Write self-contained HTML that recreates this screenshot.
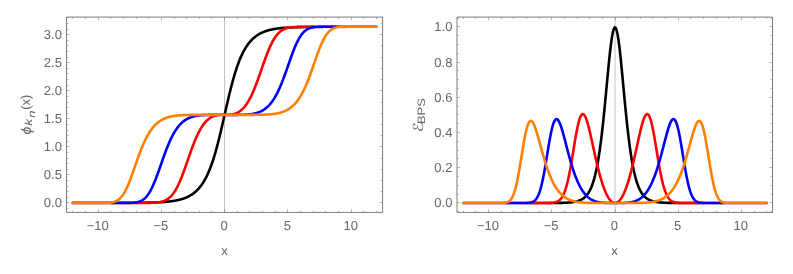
<!DOCTYPE html>
<html><head><meta charset="utf-8"><title>plots</title>
<style>html,body{margin:0;padding:0;background:#fff;overflow:hidden}
svg{display:block;will-change:transform;-webkit-font-smoothing:antialiased;text-rendering:geometricPrecision}</style>
</head><body>
<svg width="793" height="274" viewBox="0 0 793 274" font-family="'Liberation Sans', sans-serif" font-size="13" fill="#666666">
<rect width="793" height="274" fill="#ffffff"/>
<line x1="224.50" y1="17.10" x2="224.50" y2="212.40" stroke="#c4c4c4" stroke-width="1"/>
<path d="M135.42 202.80L135.73 202.80L136.05 202.80L136.37 202.80L136.68 202.79L137.00 202.79L137.31 202.79L137.63 202.78L137.95 202.78L138.26 202.78L138.58 202.78L138.90 202.77L139.21 202.77L139.53 202.77L139.84 202.76L140.16 202.76L140.48 202.75L140.79 202.75L141.11 202.75L141.43 202.74L141.74 202.74L142.06 202.74L142.38 202.73L142.69 202.73L143.01 202.72L143.32 202.72L143.64 202.71L143.96 202.71L144.27 202.70L144.59 202.70L144.91 202.69L145.22 202.69L145.54 202.68L145.85 202.68L146.17 202.67L146.49 202.67L146.80 202.66L147.12 202.65L147.44 202.65L147.75 202.64L148.07 202.64L148.38 202.63L148.70 202.62L149.02 202.62L149.33 202.61L149.65 202.60L149.97 202.59L150.28 202.59L150.60 202.58L150.91 202.57L151.23 202.56L151.55 202.55L151.86 202.54L152.18 202.53L152.50 202.52L152.81 202.52L153.13 202.51L153.44 202.50L153.76 202.49L154.08 202.47L154.39 202.46L154.71 202.45L155.02 202.44L155.34 202.43L155.66 202.42L155.97 202.41L156.29 202.39L156.61 202.38L156.92 202.37L157.24 202.35L157.56 202.34L157.87 202.33L158.19 202.31L158.50 202.30L158.82 202.28L159.14 202.27L159.45 202.25L159.77 202.23L160.08 202.22L160.40 202.20L160.72 202.18L161.03 202.16L161.35 202.14L161.67 202.13L161.98 202.11L162.30 202.09L162.62 202.07L162.93 202.04L163.25 202.02L163.56 202.00L163.88 201.98L164.20 201.95L164.51 201.93L164.83 201.91L165.15 201.88L165.46 201.85L165.78 201.83L166.09 201.80L166.41 201.77L166.73 201.74L167.04 201.72L167.36 201.69L167.67 201.65L167.99 201.62L168.31 201.59L168.62 201.56L168.94 201.52L169.26 201.49L169.57 201.45L169.89 201.42L170.20 201.38L170.52 201.34L170.84 201.30L171.15 201.26L171.47 201.22L171.79 201.18L172.10 201.13L172.42 201.09L172.74 201.04L173.05 201.00L173.37 200.95L173.68 200.90L174.00 200.85L174.32 200.80L174.63 200.74L174.95 200.69L175.26 200.63L175.58 200.57L175.90 200.51L176.21 200.45L176.53 200.39L176.85 200.33L177.16 200.26L177.48 200.20L177.80 200.13L178.11 200.06L178.43 199.99L178.74 199.91L179.06 199.84L179.38 199.76L179.69 199.68L180.01 199.60L180.32 199.52L180.64 199.43L180.96 199.34L181.27 199.25L181.59 199.16L181.91 199.07L182.22 198.97L182.54 198.87L182.86 198.77L183.17 198.66L183.49 198.56L183.80 198.45L184.12 198.33L184.44 198.22L184.75 198.10L185.07 197.98L185.38 197.85L185.70 197.73L186.02 197.60L186.33 197.46L186.65 197.32L186.97 197.18L187.28 197.04L187.60 196.89L187.91 196.74L188.23 196.58L188.55 196.42L188.86 196.26L189.18 196.09L189.50 195.92L189.81 195.74L190.13 195.56L190.44 195.38L190.76 195.19L191.08 194.99L191.39 194.79L191.71 194.59L192.03 194.38L192.34 194.16L192.66 193.94L192.97 193.72L193.29 193.49L193.61 193.25L193.92 193.01L194.24 192.76L194.56 192.50L194.87 192.24L195.19 191.97L195.50 191.70L195.82 191.42L196.14 191.13L196.45 190.83L196.77 190.53L197.09 190.22L197.40 189.90L197.72 189.57L198.03 189.24L198.35 188.90L198.67 188.55L198.98 188.19L199.30 187.82L199.62 187.44L199.93 187.06L200.25 186.66L200.56 186.26L200.88 185.84L201.20 185.42L201.51 184.98L201.83 184.54L202.15 184.08L202.46 183.61L202.78 183.13L203.09 182.64L203.41 182.14L203.73 181.63L204.04 181.11L204.36 180.57L204.68 180.02L204.99 179.45L205.31 178.88L205.62 178.29L205.94 177.69L206.26 177.07L206.57 176.44L206.89 175.80L207.21 175.14L207.52 174.47L207.84 173.78L208.16 173.07L208.47 172.35L208.79 171.62L209.10 170.87L209.42 170.10L209.74 169.32L210.05 168.52L210.37 167.71L210.69 166.88L211.00 166.03L211.32 165.16L211.63 164.28L211.95 163.38L212.27 162.47L212.58 161.53L212.90 160.58L213.22 159.61L213.53 158.63L213.85 157.62L214.16 156.60L214.48 155.56L214.80 154.50L215.11 153.43L215.43 152.34L215.75 151.23L216.06 150.11L216.38 148.97L216.69 147.81L217.01 146.63L217.33 145.44L217.64 144.24L217.96 143.02L218.28 141.78L218.59 140.53L218.91 139.27L219.22 137.99L219.54 136.70L219.86 135.40L220.17 134.09L220.49 132.76L220.81 131.43L221.12 130.08L221.44 128.73L221.75 127.36L222.07 125.99L222.39 124.62L222.70 123.23L223.02 121.84L223.34 120.45L223.65 119.06L223.97 117.66L224.28 116.26L224.60 114.86M224.60 114.86L224.92 113.46L225.23 112.06L225.55 110.66L225.87 109.26L226.18 107.87L226.50 106.48L226.81 105.10L227.13 103.72L227.45 102.35L227.76 100.99L228.08 99.63L228.40 98.29L228.71 96.95L229.03 95.63L229.34 94.31L229.66 93.01L229.98 91.72L230.29 90.44L230.61 89.18L230.92 87.93L231.24 86.70L231.56 85.48L231.87 84.27L232.19 83.08L232.51 81.91L232.82 80.75L233.14 79.61L233.46 78.48L233.77 77.37L234.09 76.28L234.40 75.21L234.72 74.15L235.04 73.11L235.35 72.09L235.67 71.09L235.99 70.10L236.30 69.13L236.62 68.18L236.93 67.25L237.25 66.33L237.57 65.43L237.88 64.55L238.20 63.68L238.52 62.84L238.83 62.00L239.15 61.19L239.46 60.39L239.78 59.61L240.10 58.84L240.41 58.09L240.73 57.36L241.05 56.64L241.36 55.94L241.68 55.25L241.99 54.58L242.31 53.92L242.63 53.27L242.94 52.64L243.26 52.03L243.57 51.42L243.89 50.83L244.21 50.26L244.52 49.70L244.84 49.15L245.16 48.61L245.47 48.08L245.79 47.57L246.11 47.07L246.42 46.58L246.74 46.10L247.05 45.63L247.37 45.18L247.69 44.73L248.00 44.30L248.32 43.87L248.63 43.46L248.95 43.05L249.27 42.66L249.58 42.27L249.90 41.89L250.22 41.53L250.53 41.17L250.85 40.82L251.17 40.47L251.48 40.14L251.80 39.81L252.11 39.49L252.43 39.18L252.75 38.88L253.06 38.59L253.38 38.30L253.69 38.02L254.01 37.74L254.33 37.47L254.64 37.21L254.96 36.96L255.28 36.71L255.59 36.46L255.91 36.23L256.23 35.99L256.54 35.77L256.86 35.55L257.17 35.33L257.49 35.12L257.81 34.92L258.12 34.72L258.44 34.53L258.75 34.34L259.07 34.15L259.39 33.97L259.70 33.79L260.02 33.62L260.34 33.45L260.65 33.29L260.97 33.13L261.28 32.98L261.60 32.82L261.92 32.68L262.23 32.53L262.55 32.39L262.87 32.25L263.18 32.12L263.50 31.99L263.81 31.86L264.13 31.74L264.45 31.61L264.76 31.50L265.08 31.38L265.40 31.27L265.71 31.16L266.03 31.05L266.35 30.95L266.66 30.84L266.98 30.75L267.29 30.65L267.61 30.55L267.93 30.46L268.24 30.37L268.56 30.28L268.88 30.20L269.19 30.11L269.51 30.03L269.82 29.95L270.14 29.88L270.46 29.80L270.77 29.73L271.09 29.65L271.41 29.58L271.72 29.52L272.04 29.45L272.35 29.38L272.67 29.32L272.99 29.26L273.30 29.20L273.62 29.14L273.94 29.08L274.25 29.03L274.57 28.97L274.88 28.92L275.20 28.87L275.52 28.82L275.83 28.77L276.15 28.72L276.47 28.67L276.78 28.63L277.10 28.58L277.41 28.54L277.73 28.49L278.05 28.45L278.36 28.41L278.68 28.37L279.00 28.33L279.31 28.30L279.63 28.26L279.94 28.22L280.26 28.19L280.58 28.16L280.89 28.12L281.21 28.09L281.52 28.06L281.84 28.03L282.16 28.00L282.47 27.97L282.79 27.94L283.11 27.91L283.42 27.89L283.74 27.86L284.06 27.83L284.37 27.81L284.69 27.78L285.00 27.76L285.32 27.74L285.64 27.71L285.95 27.69L286.27 27.67L286.59 27.65L286.90 27.63L287.22 27.61L287.53 27.59L287.85 27.57L288.17 27.55L288.48 27.53L288.80 27.51L289.12 27.50L289.43 27.48L289.75 27.46L290.06 27.45L290.38 27.43L290.70 27.42L291.01 27.40L291.33 27.39L291.64 27.37L291.96 27.36L292.28 27.35L292.59 27.33L292.91 27.32L293.23 27.31L293.54 27.30L293.86 27.28L294.18 27.27L294.49 27.26L294.81 27.25L295.12 27.24L295.44 27.23L295.76 27.22L296.07 27.21L296.39 27.20L296.70 27.19L297.02 27.18L297.34 27.17L297.65 27.16L297.97 27.15L298.29 27.14L298.60 27.14L298.92 27.13L299.24 27.12L299.55 27.11L299.87 27.11L300.18 27.10L300.50 27.09L300.82 27.08L301.13 27.08L301.45 27.07L301.76 27.07L302.08 27.06L302.40 27.05L302.71 27.05L303.03 27.04L303.35 27.04L303.66 27.03L303.98 27.02L304.30 27.02L304.61 27.01L304.93 27.01L305.24 27.00L305.56 27.00L305.88 27.00L306.19 26.99L306.51 26.99L306.82 26.98L307.14 26.98L307.46 26.97L307.77 26.97L308.09 26.97L308.41 26.96L308.72 26.96L309.04 26.96L309.36 26.95L309.67 26.95L309.99 26.94L310.30 26.94L310.62 26.94L310.94 26.94L311.25 26.93L311.57 26.93L311.88 26.93L312.20 26.92L312.52 26.92L312.83 26.92L313.15 26.92L313.47 26.91L313.78 26.91" fill="none" stroke="#000000" stroke-width="2.60" stroke-linecap="round" stroke-linejoin="round"/>
<path d="M110.75 202.90L111.07 202.90L111.38 202.90L111.70 202.90L112.01 202.90L112.33 202.90L112.65 202.90L112.96 202.90L113.28 202.90L113.60 202.90L113.91 202.90L114.23 202.90L114.55 202.90L114.86 202.90L115.18 202.90L115.49 202.90L115.81 202.90L116.13 202.90L116.44 202.90L116.76 202.90L117.07 202.90L117.39 202.90L117.71 202.90L118.02 202.90L118.34 202.90L118.66 202.90L118.97 202.90L119.29 202.90L119.60 202.90L119.92 202.90L120.24 202.90L120.55 202.90L120.87 202.90L121.19 202.90L121.50 202.90L121.82 202.90L122.13 202.90L122.45 202.90L122.77 202.90L123.08 202.90L123.40 202.90L123.72 202.90L124.03 202.90L124.35 202.90L124.66 202.90L124.98 202.90L125.30 202.90L125.61 202.90L125.93 202.90L126.25 202.90L126.56 202.90L126.88 202.90L127.19 202.90L127.51 202.90L127.83 202.90L128.14 202.90L128.46 202.90L128.78 202.90L129.09 202.90L129.41 202.90L129.72 202.90L130.04 202.90L130.36 202.90L130.67 202.90L130.99 202.90L131.31 202.90L131.62 202.90L131.94 202.90L132.25 202.90L132.57 202.90L132.89 202.90L133.20 202.90L133.52 202.90L133.84 202.90L134.15 202.90L134.47 202.90L134.78 202.90L135.10 202.90L135.42 202.90L135.73 202.90L136.05 202.90L136.37 202.90L136.68 202.90L137.00 202.90L137.31 202.90L137.63 202.90L137.95 202.90L138.26 202.90L138.58 202.90L138.90 202.90L139.21 202.90L139.53 202.90L139.84 202.90L140.16 202.90L140.48 202.90L140.79 202.90L141.11 202.90L141.43 202.90L141.74 202.90L142.06 202.90L142.38 202.90L142.69 202.90L143.01 202.89L143.32 202.89L143.64 202.89L143.96 202.89L144.27 202.89L144.59 202.89L144.91 202.89L145.22 202.89L145.54 202.89L145.85 202.89L146.17 202.88L146.49 202.88L146.80 202.88L147.12 202.88L147.44 202.87L147.75 202.87L148.07 202.87L148.38 202.87L148.70 202.86L149.02 202.86L149.33 202.85L149.65 202.85L149.97 202.84L150.28 202.84L150.60 202.83L150.91 202.83L151.23 202.82L151.55 202.81L151.86 202.80L152.18 202.79L152.50 202.78L152.81 202.77L153.13 202.76L153.44 202.75L153.76 202.73L154.08 202.72L154.39 202.70L154.71 202.68L155.02 202.66L155.34 202.64L155.66 202.62L155.97 202.60L156.29 202.57L156.61 202.54L156.92 202.51L157.24 202.48L157.56 202.45L157.87 202.41L158.19 202.37L158.50 202.33L158.82 202.29L159.14 202.24L159.45 202.19L159.77 202.13L160.08 202.08L160.40 202.01L160.72 201.95L161.03 201.88L161.35 201.81L161.67 201.73L161.98 201.64L162.30 201.56L162.62 201.46L162.93 201.37L163.25 201.26L163.56 201.15L163.88 201.03L164.20 200.91L164.51 200.78L164.83 200.65L165.15 200.50L165.46 200.35L165.78 200.19L166.09 200.03L166.41 199.85L166.73 199.67L167.04 199.48L167.36 199.28L167.67 199.07L167.99 198.85L168.31 198.61L168.62 198.37L168.94 198.12L169.26 197.86L169.57 197.59L169.89 197.30L170.20 197.01L170.52 196.70L170.84 196.38L171.15 196.05L171.47 195.70L171.79 195.34L172.10 194.97L172.42 194.59L172.74 194.19L173.05 193.78L173.37 193.35L173.68 192.91L174.00 192.46L174.32 191.99L174.63 191.50L174.95 191.01L175.26 190.49L175.58 189.97L175.90 189.42L176.21 188.87L176.53 188.29L176.85 187.71L177.16 187.11L177.48 186.49L177.80 185.86L178.11 185.21L178.43 184.55L178.74 183.88L179.06 183.19L179.38 182.49L179.69 181.77L180.01 181.05L180.32 180.30L180.64 179.55L180.96 178.78L181.27 178.00L181.59 177.21L181.91 176.41L182.22 175.60L182.54 174.78L182.86 173.94L183.17 173.10L183.49 172.25L183.80 171.39L184.12 170.52L184.44 169.65L184.75 168.77L185.07 167.88L185.38 166.99L185.70 166.09L186.02 165.19L186.33 164.29L186.65 163.38L186.97 162.47L187.28 161.56L187.60 160.65L187.91 159.74L188.23 158.83L188.55 157.92L188.86 157.01L189.18 156.10L189.50 155.20L189.81 154.30L190.13 153.41L190.44 152.52L190.76 151.63L191.08 150.75L191.39 149.88L191.71 149.01L192.03 148.15L192.34 147.30L192.66 146.46L192.97 145.62L193.29 144.80L193.61 143.98L193.92 143.17L194.24 142.38L194.56 141.59L194.87 140.82L195.19 140.05L195.50 139.30L195.82 138.56L196.14 137.83L196.45 137.11L196.77 136.41L197.09 135.72L197.40 135.04L197.72 134.37L198.03 133.72L198.35 133.07L198.67 132.45L198.98 131.83L199.30 131.23L199.62 130.64L199.93 130.06L200.25 129.50L200.56 128.94L200.88 128.41L201.20 127.88L201.51 127.37L201.83 126.87L202.15 126.38L202.46 125.91L202.78 125.45L203.09 125.00L203.41 124.56L203.73 124.14L204.04 123.73L204.36 123.33L204.68 122.94L204.99 122.56L205.31 122.20L205.62 121.84L205.94 121.50L206.26 121.17L206.57 120.85L206.89 120.54L207.21 120.25L207.52 119.96L207.84 119.68L208.16 119.41L208.47 119.16L208.79 118.91L209.10 118.67L209.42 118.44L209.74 118.22L210.05 118.01L210.37 117.81L210.69 117.62L211.00 117.43L211.32 117.26L211.63 117.09L211.95 116.93L212.27 116.78L212.58 116.64L212.90 116.50L213.22 116.37L213.53 116.25L213.85 116.13L214.16 116.02L214.48 115.92L214.80 115.82L215.11 115.73L215.43 115.65L215.75 115.57L216.06 115.50L216.38 115.43L216.69 115.36L217.01 115.31L217.33 115.25L217.64 115.20M231.56 114.51L231.87 114.46L232.19 114.41L232.51 114.35L232.82 114.29L233.14 114.22L233.46 114.14L233.77 114.07L234.09 113.98L234.40 113.89L234.72 113.79L235.04 113.69L235.35 113.58L235.67 113.47L235.99 113.34L236.30 113.21L236.62 113.08L236.93 112.93L237.25 112.78L237.57 112.62L237.88 112.45L238.20 112.28L238.52 112.09L238.83 111.90L239.15 111.70L239.46 111.49L239.78 111.27L240.10 111.04L240.41 110.81L240.73 110.56L241.05 110.30L241.36 110.03L241.68 109.76L241.99 109.47L242.31 109.17L242.63 108.86L242.94 108.54L243.26 108.21L243.57 107.87L243.89 107.52L244.21 107.15L244.52 106.77L244.84 106.39L245.16 105.99L245.47 105.57L245.79 105.15L246.11 104.71L246.42 104.26L246.74 103.80L247.05 103.33L247.37 102.84L247.69 102.34L248.00 101.83L248.32 101.31L248.63 100.77L248.95 100.22L249.27 99.65L249.58 99.08L249.90 98.49L250.22 97.88L250.53 97.27L250.85 96.64L251.17 96.00L251.48 95.34L251.80 94.68L252.11 94.00L252.43 93.30L252.75 92.60L253.06 91.88L253.38 91.15L253.69 90.41L254.01 89.66L254.33 88.90L254.64 88.12L254.96 87.34L255.28 86.54L255.59 85.73L255.91 84.92L256.23 84.09L256.54 83.26L256.86 82.41L257.17 81.56L257.49 80.70L257.81 79.84L258.12 78.96L258.44 78.08L258.75 77.20L259.07 76.31L259.39 75.41L259.70 74.51L260.02 73.61L260.34 72.70L260.65 71.79L260.97 70.88L261.28 69.97L261.60 69.06L261.92 68.15L262.23 67.24L262.55 66.33L262.87 65.42L263.18 64.52L263.50 63.62L263.81 62.72L264.13 61.83L264.45 60.94L264.76 60.06L265.08 59.19L265.40 58.32L265.71 57.46L266.03 56.61L266.35 55.77L266.66 54.94L266.98 54.11L267.29 53.30L267.61 52.50L267.93 51.71L268.24 50.93L268.56 50.16L268.88 49.41L269.19 48.67L269.51 47.94L269.82 47.22L270.14 46.52L270.46 45.83L270.77 45.16L271.09 44.50L271.41 43.85L271.72 43.22L272.04 42.61L272.35 42.01L272.67 41.42L272.99 40.85L273.30 40.29L273.62 39.75L273.94 39.22L274.25 38.71L274.57 38.21L274.88 37.73L275.20 37.26L275.52 36.80L275.83 36.36L276.15 35.94L276.47 35.53L276.78 35.13L277.10 34.74L277.41 34.37L277.73 34.01L278.05 33.67L278.36 33.34L278.68 33.01L279.00 32.71L279.31 32.41L279.63 32.13L279.94 31.85L280.26 31.59L280.58 31.34L280.89 31.10L281.21 30.87L281.52 30.65L281.84 30.44L282.16 30.24L282.47 30.04L282.79 29.86L283.11 29.69L283.42 29.52L283.74 29.36L284.06 29.21L284.37 29.07L284.69 28.93L285.00 28.80L285.32 28.68L285.64 28.56L285.95 28.45L286.27 28.35L286.59 28.25L286.90 28.16L287.22 28.07L287.53 27.99L287.85 27.91L288.17 27.83L288.48 27.76L288.80 27.70L289.12 27.64L289.43 27.58L289.75 27.53L290.06 27.48L290.38 27.43L290.70 27.38L291.01 27.34L291.33 27.30L291.64 27.27L291.96 27.23L292.28 27.20L292.59 27.17L292.91 27.14L293.23 27.12L293.54 27.09L293.86 27.07L294.18 27.05L294.49 27.03L294.81 27.01L295.12 27.00L295.44 26.98L295.76 26.97L296.07 26.95L296.39 26.94L296.70 26.93L297.02 26.92L297.34 26.91L297.65 26.90L297.97 26.90L298.29 26.89L298.60 26.88L298.92 26.88L299.24 26.87L299.55 26.86L299.87 26.86L300.18 26.86L300.50 26.85L300.82 26.85L301.13 26.84L301.45 26.84L301.76 26.84L302.08 26.84L302.40 26.83L302.71 26.83L303.03 26.83L303.35 26.83L303.66 26.83L303.98 26.83L304.30 26.82L304.61 26.82L304.93 26.82L305.24 26.82L305.56 26.82L305.88 26.82L306.19 26.82L306.51 26.82L306.82 26.82L307.14 26.82L307.46 26.82L307.77 26.82L308.09 26.82L308.41 26.82L308.72 26.82L309.04 26.82L309.36 26.82L309.67 26.82L309.99 26.81L310.30 26.81L310.62 26.81L310.94 26.81L311.25 26.81L311.57 26.81L311.88 26.81L312.20 26.81L312.52 26.81L312.83 26.81L313.15 26.81L313.47 26.81L313.78 26.81L314.10 26.81L314.42 26.81L314.73 26.81L315.05 26.81L315.36 26.81L315.68 26.81L316.00 26.81L316.31 26.81L316.63 26.81L316.94 26.81L317.26 26.81L317.58 26.81L317.89 26.81L318.21 26.81L318.53 26.81L318.84 26.81L319.16 26.81L319.48 26.81L319.79 26.81L320.11 26.81L320.42 26.81L320.74 26.81L321.06 26.81L321.37 26.81L321.69 26.81L322.01 26.81L322.32 26.81L322.64 26.81L322.95 26.81L323.27 26.81L323.59 26.81L323.90 26.81L324.22 26.81L324.54 26.81L324.85 26.81L325.17 26.81L325.48 26.81L325.80 26.81L326.12 26.81L326.43 26.81L326.75 26.81L327.06 26.81L327.38 26.81L327.70 26.81L328.01 26.81L328.33 26.81L328.65 26.81L328.96 26.81L329.28 26.81L329.60 26.81L329.91 26.81L330.23 26.81L330.54 26.81L330.86 26.81L331.18 26.81L331.49 26.81L331.81 26.81L332.12 26.81L332.44 26.81L332.76 26.81L333.07 26.81L333.39 26.81L333.71 26.81L334.02 26.81L334.34 26.81L334.66 26.81L334.97 26.81L335.29 26.81L335.60 26.81L335.92 26.81L336.24 26.81L336.55 26.81L336.87 26.81L337.19 26.81L337.50 26.81L337.82 26.81L338.13 26.81L338.45 26.81" fill="none" stroke="#ff0000" stroke-width="2.60" stroke-linecap="round" stroke-linejoin="round"/>
<path d="M72.80 202.90L73.12 202.90L73.43 202.90L73.75 202.90L74.06 202.90L74.38 202.90L74.70 202.90L75.01 202.90L75.33 202.90L75.65 202.90L75.96 202.90L76.28 202.90L76.59 202.90L76.91 202.90L77.23 202.90L77.54 202.90L77.86 202.90L78.18 202.90L78.49 202.90L78.81 202.90L79.12 202.90L79.44 202.90L79.76 202.90L80.07 202.90L80.39 202.90L80.71 202.90L81.02 202.90L81.34 202.90L81.65 202.90L81.97 202.90L82.29 202.90L82.60 202.90L82.92 202.90L83.24 202.90L83.55 202.90L83.87 202.90L84.19 202.90L84.50 202.90L84.82 202.90L85.13 202.90L85.45 202.90L85.77 202.90L86.08 202.90L86.40 202.90L86.71 202.90L87.03 202.90L87.35 202.90L87.66 202.90L87.98 202.90L88.30 202.90L88.61 202.90L88.93 202.90L89.25 202.90L89.56 202.90L89.88 202.90L90.19 202.90L90.51 202.90L90.83 202.90L91.14 202.90L91.46 202.90L91.77 202.90L92.09 202.90L92.41 202.90L92.72 202.90L93.04 202.90L93.36 202.90L93.67 202.90L93.99 202.90L94.30 202.90L94.62 202.90L94.94 202.90L95.25 202.90L95.57 202.90L95.89 202.90L96.20 202.90L96.52 202.90L96.83 202.90L97.15 202.90L97.47 202.90L97.78 202.90L98.10 202.90L98.42 202.90L98.73 202.90L99.05 202.90L99.36 202.90L99.68 202.90L100.00 202.90L100.31 202.90L100.63 202.90L100.95 202.90L101.26 202.90L101.58 202.90L101.89 202.90L102.21 202.90L102.53 202.90L102.84 202.90L103.16 202.90L103.48 202.90L103.79 202.90L104.11 202.90L104.42 202.90L104.74 202.90L105.06 202.90L105.37 202.90L105.69 202.90L106.01 202.90L106.32 202.90L106.64 202.90L106.95 202.90L107.27 202.90L107.59 202.90L107.90 202.90L108.22 202.90L108.54 202.90L108.85 202.90L109.17 202.90L109.48 202.90L109.80 202.90L110.12 202.90L110.43 202.90L110.75 202.90L111.07 202.90L111.38 202.90L111.70 202.90L112.01 202.90L112.33 202.90L112.65 202.90L112.96 202.90L113.28 202.90L113.60 202.90L113.91 202.90L114.23 202.90L114.55 202.90L114.86 202.90L115.18 202.90L115.49 202.90L115.81 202.90L116.13 202.90L116.44 202.90L116.76 202.90L117.07 202.90L117.39 202.90L117.71 202.90L118.02 202.90L118.34 202.90L118.66 202.90L118.97 202.90L119.29 202.90L119.60 202.90L119.92 202.90L120.24 202.90L120.55 202.90L120.87 202.90L121.19 202.90L121.50 202.90L121.82 202.90L122.13 202.90L122.45 202.90L122.77 202.90L123.08 202.90L123.40 202.90L123.72 202.90L124.03 202.90L124.35 202.89L124.66 202.89L124.98 202.89L125.30 202.89L125.61 202.89L125.93 202.89L126.25 202.89L126.56 202.89L126.88 202.88L127.19 202.88L127.51 202.88L127.83 202.87L128.14 202.87L128.46 202.87L128.78 202.86L129.09 202.86L129.41 202.85L129.72 202.84L130.04 202.84L130.36 202.83L130.67 202.82L130.99 202.81L131.31 202.80L131.62 202.78L131.94 202.77L132.25 202.75L132.57 202.73L132.89 202.72L133.20 202.69L133.52 202.67L133.84 202.64L134.15 202.62L134.47 202.59L134.78 202.55L135.10 202.51L135.42 202.47L135.73 202.43L136.05 202.38L136.37 202.33L136.68 202.27L137.00 202.21L137.31 202.15L137.63 202.08L137.95 202.00L138.26 201.92L138.58 201.83L138.90 201.74L139.21 201.63L139.53 201.53L139.84 201.41L140.16 201.29L140.48 201.15L140.79 201.01L141.11 200.86L141.43 200.70L141.74 200.53L142.06 200.35L142.38 200.16L142.69 199.96L143.01 199.75L143.32 199.53L143.64 199.29L143.96 199.04L144.27 198.78L144.59 198.51L144.91 198.22L145.22 197.92L145.54 197.60L145.85 197.27L146.17 196.93L146.49 196.57L146.80 196.19L147.12 195.80L147.44 195.40L147.75 194.98L148.07 194.54L148.38 194.08L148.70 193.61L149.02 193.12L149.33 192.62L149.65 192.10L149.97 191.56L150.28 191.01L150.60 190.44L150.91 189.85L151.23 189.25L151.55 188.63L151.86 187.99L152.18 187.34L152.50 186.67L152.81 185.98L153.13 185.29L153.44 184.57L153.76 183.84L154.08 183.10L154.39 182.35L154.71 181.58L155.02 180.80L155.34 180.00L155.66 179.19L155.97 178.38L156.29 177.55L156.61 176.71L156.92 175.86L157.24 175.01L157.56 174.14L157.87 173.27L158.19 172.39L158.50 171.51L158.82 170.62L159.14 169.72L159.45 168.82L159.77 167.92L160.08 167.02L160.40 166.11L160.72 165.20L161.03 164.29L161.35 163.38L161.67 162.48L161.98 161.57L162.30 160.67L162.62 159.76L162.93 158.87L163.25 157.97L163.56 157.09L163.88 156.20L164.20 155.32L164.51 154.45L164.83 153.59L165.15 152.73L165.46 151.88L165.78 151.04L166.09 150.21L166.41 149.38L166.73 148.57L167.04 147.76L167.36 146.97L167.67 146.18L167.99 145.41L168.31 144.65L168.62 143.89L168.94 143.15L169.26 142.42L169.57 141.70L169.89 141.00L170.20 140.30L170.52 139.62L170.84 138.95L171.15 138.29L171.47 137.64L171.79 137.01L172.10 136.39L172.42 135.77L172.74 135.18L173.05 134.59L173.37 134.02L173.68 133.45L174.00 132.90L174.32 132.36L174.63 131.84L174.95 131.32L175.26 130.82L175.58 130.33L175.90 129.85L176.21 129.38L176.53 128.92L176.85 128.47L177.16 128.03L177.48 127.61L177.80 127.19L178.11 126.79L178.43 126.39L178.74 126.01L179.06 125.64L179.38 125.27L179.69 124.92L180.01 124.57L180.32 124.23L180.64 123.91L180.96 123.59L181.27 123.28L181.59 122.98L181.91 122.69L182.22 122.40L182.54 122.13L182.86 121.86L183.17 121.60L183.49 121.35L183.80 121.10L184.12 120.86L184.44 120.63L184.75 120.41L185.07 120.19L185.38 119.98L185.70 119.78L186.02 119.59L186.33 119.40L186.65 119.21L186.97 119.03L187.28 118.86L187.60 118.69L187.91 118.53L188.23 118.38L188.55 118.23L188.86 118.08L189.18 117.94L189.50 117.81L189.81 117.68L190.13 117.55L190.44 117.43L190.76 117.31L191.08 117.20L191.39 117.09L191.71 116.99L192.03 116.89L192.34 116.79L192.66 116.70L192.97 116.61L193.29 116.52L193.61 116.44L193.92 116.36L194.24 116.28L194.56 116.21L194.87 116.14L195.19 116.08L195.50 116.01L195.82 115.95L196.14 115.89L196.45 115.83L196.77 115.78L197.09 115.73L197.40 115.68L197.72 115.63L198.03 115.59L198.35 115.55L198.67 115.51L198.98 115.47L199.30 115.43L199.62 115.40L199.93 115.36L200.25 115.33L200.56 115.30L200.88 115.27L201.20 115.25L201.51 115.22L201.83 115.20L202.15 115.17L202.46 115.15L202.78 115.13L203.09 115.11L203.41 115.09L203.73 115.08L204.04 115.06L204.36 115.04L204.68 115.03L204.99 115.02L205.31 115.00L205.62 114.99L205.94 114.98L206.26 114.97L206.57 114.96L206.89 114.95L207.21 114.95L207.52 114.94L207.84 114.93L208.16 114.92L208.47 114.92L208.79 114.91L209.10 114.91L209.42 114.90L209.74 114.90L210.05 114.89L210.37 114.89L210.69 114.89L211.00 114.88L211.32 114.88L211.63 114.88L211.95 114.87L212.27 114.87L212.58 114.87L212.90 114.87L213.22 114.87L213.53 114.87L213.85 114.86L214.16 114.86L214.48 114.86L214.80 114.86L215.11 114.86L215.43 114.86L215.75 114.86L216.06 114.86L216.38 114.86L216.69 114.86L217.01 114.86L217.33 114.86L217.64 114.86L217.96 114.86L218.28 114.86L218.59 114.86L218.91 114.86L219.22 114.86L219.54 114.86L219.86 114.86L220.17 114.86L220.49 114.86L220.81 114.86L221.12 114.86L221.44 114.86L221.75 114.86L222.07 114.86L222.39 114.86L222.70 114.86L223.02 114.86L223.34 114.86L223.65 114.86L223.97 114.86L224.28 114.86L224.60 114.86L224.92 114.86L225.23 114.86L225.55 114.86L225.87 114.86L226.18 114.86L226.50 114.86L226.81 114.86L227.13 114.86L227.45 114.86L227.76 114.86L228.08 114.86L228.40 114.86L228.71 114.86L229.03 114.86L229.34 114.86L229.66 114.86L229.98 114.86L230.29 114.86L230.61 114.86L230.92 114.86L231.24 114.86L231.56 114.86L231.87 114.86L232.19 114.86L232.51 114.86L232.82 114.85L233.14 114.85L233.46 114.85L233.77 114.85L234.09 114.85L234.40 114.85L234.72 114.85L235.04 114.85L235.35 114.85L235.67 114.85L235.99 114.85L236.30 114.84L236.62 114.84L236.93 114.84L237.25 114.84L237.57 114.84L237.88 114.83L238.20 114.83L238.52 114.83L238.83 114.82L239.15 114.82L239.46 114.82L239.78 114.81L240.10 114.81L240.41 114.80L240.73 114.80L241.05 114.79L241.36 114.78L241.68 114.78L241.99 114.77L242.31 114.76L242.63 114.75L242.94 114.74L243.26 114.73L243.57 114.72L243.89 114.71L244.21 114.70L244.52 114.68L244.84 114.67L245.16 114.65L245.47 114.64L245.79 114.62L246.11 114.60L246.42 114.58L246.74 114.56L247.05 114.54L247.37 114.52L247.69 114.49L248.00 114.47L248.32 114.44L248.63 114.41L248.95 114.38L249.27 114.35L249.58 114.32L249.90 114.28L250.22 114.25L250.53 114.21L250.85 114.17L251.17 114.12L251.48 114.08L251.80 114.03L252.11 113.98L252.43 113.93L252.75 113.88L253.06 113.82L253.38 113.76L253.69 113.70L254.01 113.64L254.33 113.57L254.64 113.50L254.96 113.43L255.28 113.35L255.59 113.27L255.91 113.19L256.23 113.11L256.54 113.02L256.86 112.92L257.17 112.83L257.49 112.73L257.81 112.62L258.12 112.51L258.44 112.40L258.75 112.28L259.07 112.16L259.39 112.04L259.70 111.91L260.02 111.77L260.34 111.63L260.65 111.49L260.97 111.34L261.28 111.18L261.60 111.02L261.92 110.85L262.23 110.68L262.55 110.50L262.87 110.32L263.18 110.13L263.50 109.93L263.81 109.73L264.13 109.52L264.45 109.30L264.76 109.08L265.08 108.85L265.40 108.61L265.71 108.37L266.03 108.12L266.35 107.86L266.66 107.59L266.98 107.31L267.29 107.03L267.61 106.74L267.93 106.44L268.24 106.13L268.56 105.81L268.88 105.48L269.19 105.14L269.51 104.80L269.82 104.44L270.14 104.08L270.46 103.70L270.77 103.32L271.09 102.93L271.41 102.52L271.72 102.10L272.04 101.68L272.35 101.24L272.67 100.80L272.99 100.34L273.30 99.87L273.62 99.39L273.94 98.89L274.25 98.39L274.57 97.88L274.88 97.35L275.20 96.81L275.52 96.26L275.83 95.70L276.15 95.12L276.47 94.54L276.78 93.94L277.10 93.33L277.41 92.71L277.73 92.07L278.05 91.42L278.36 90.77L278.68 90.09L279.00 89.41L279.31 88.72L279.63 88.01L279.94 87.29L280.26 86.56L280.58 85.82L280.89 85.07L281.21 84.31L281.52 83.53L281.84 82.75L282.16 81.95L282.47 81.15L282.79 80.33L283.11 79.51L283.42 78.67L283.74 77.83L284.06 76.98L284.37 76.13L284.69 75.26L285.00 74.39L285.32 73.51L285.64 72.63L285.95 71.74L286.27 70.85L286.59 69.95L286.90 69.05L287.22 68.14L287.53 67.24L287.85 66.33L288.17 65.42L288.48 64.51L288.80 63.61L289.12 62.70L289.43 61.79L289.75 60.89L290.06 59.99L290.38 59.10L290.70 58.21L291.01 57.32L291.33 56.44L291.64 55.57L291.96 54.71L292.28 53.85L292.59 53.00L292.91 52.16L293.23 51.34L293.54 50.52L293.86 49.71L294.18 48.92L294.49 48.14L294.81 47.37L295.12 46.61L295.44 45.87L295.76 45.14L296.07 44.43L296.39 43.73L296.70 43.05L297.02 42.38L297.34 41.72L297.65 41.09L297.97 40.47L298.29 39.86L298.60 39.28L298.92 38.71L299.24 38.15L299.55 37.61L299.87 37.09L300.18 36.59L300.50 36.10L300.82 35.63L301.13 35.18L301.45 34.74L301.76 34.32L302.08 33.91L302.40 33.52L302.71 33.14L303.03 32.78L303.35 32.44L303.66 32.11L303.98 31.79L304.30 31.49L304.61 31.20L304.93 30.93L305.24 30.67L305.56 30.42L305.88 30.19L306.19 29.96L306.51 29.75L306.82 29.55L307.14 29.36L307.46 29.18L307.77 29.01L308.09 28.85L308.41 28.70L308.72 28.56L309.04 28.43L309.36 28.30L309.67 28.19L309.99 28.08L310.30 27.98L310.62 27.88L310.94 27.79L311.25 27.71L311.57 27.64L311.88 27.57L312.20 27.50L312.52 27.44L312.83 27.38L313.15 27.33L313.47 27.28L313.78 27.24L314.10 27.20L314.42 27.16L314.73 27.13L315.05 27.10L315.36 27.07L315.68 27.04L316.00 27.02L316.31 27.00L316.63 26.98L316.94 26.96L317.26 26.95L317.58 26.93L317.89 26.92L318.21 26.91L318.53 26.90L318.84 26.89L319.16 26.88L319.48 26.87L319.79 26.86L320.11 26.86L320.42 26.85L320.74 26.85L321.06 26.84L321.37 26.84L321.69 26.84L322.01 26.83L322.32 26.83L322.64 26.83L322.95 26.83L323.27 26.82L323.59 26.82L323.90 26.82L324.22 26.82L324.54 26.82L324.85 26.82L325.17 26.82L325.48 26.82L325.80 26.82L326.12 26.82L326.43 26.82L326.75 26.82L327.06 26.82L327.38 26.82L327.70 26.81L328.01 26.81L328.33 26.81L328.65 26.81L328.96 26.81L329.28 26.81L329.60 26.81L329.91 26.81L330.23 26.81L330.54 26.81L330.86 26.81L331.18 26.81L331.49 26.81L331.81 26.81L332.12 26.81L332.44 26.81L332.76 26.81L333.07 26.81L333.39 26.81L333.71 26.81L334.02 26.81L334.34 26.81L334.66 26.81L334.97 26.81L335.29 26.81L335.60 26.81L335.92 26.81L336.24 26.81L336.55 26.81L336.87 26.81L337.19 26.81L337.50 26.81L337.82 26.81L338.13 26.81L338.45 26.81L338.77 26.81L339.08 26.81L339.40 26.81L339.72 26.81L340.03 26.81L340.35 26.81L340.66 26.81L340.98 26.81L341.30 26.81L341.61 26.81L341.93 26.81L342.25 26.81L342.56 26.81L342.88 26.81L343.19 26.81L343.51 26.81L343.83 26.81L344.14 26.81L344.46 26.81L344.77 26.81L345.09 26.81L345.41 26.81L345.72 26.81L346.04 26.81L346.36 26.81L346.67 26.81L346.99 26.81L347.31 26.81L347.62 26.81L347.94 26.81L348.25 26.81L348.57 26.81L348.89 26.81L349.20 26.81L349.52 26.81L349.84 26.81L350.15 26.81L350.47 26.81L350.78 26.81L351.10 26.81L351.42 26.81L351.73 26.81L352.05 26.81L352.37 26.81L352.68 26.81L353.00 26.81L353.31 26.81L353.63 26.81L353.95 26.81L354.26 26.81L354.58 26.81L354.89 26.81L355.21 26.81L355.53 26.81L355.84 26.81L356.16 26.81L356.48 26.81L356.79 26.81L357.11 26.81L357.43 26.81L357.74 26.81L358.06 26.81L358.37 26.81L358.69 26.81L359.01 26.81L359.32 26.81L359.64 26.81L359.96 26.81L360.27 26.81L360.59 26.81L360.90 26.81L361.22 26.81L361.54 26.81L361.85 26.81L362.17 26.81L362.49 26.81L362.80 26.81L363.12 26.81L363.43 26.81L363.75 26.81L364.07 26.81L364.38 26.81L364.70 26.81L365.01 26.81L365.33 26.81L365.65 26.81L365.96 26.81L366.28 26.81L366.60 26.81L366.91 26.81L367.23 26.81L367.55 26.81L367.86 26.81L368.18 26.81L368.49 26.81L368.81 26.81L369.13 26.81L369.44 26.81L369.76 26.81L370.07 26.81L370.39 26.81L370.71 26.81L371.02 26.81L371.34 26.81L371.66 26.81L371.97 26.81L372.29 26.81L372.61 26.81L372.92 26.81L373.24 26.81L373.55 26.81L373.87 26.81L374.19 26.81L374.50 26.81L374.82 26.81L375.13 26.81L375.45 26.81L375.77 26.81L376.08 26.81L376.40 26.81" fill="none" stroke="#0000ff" stroke-width="2.60" stroke-linecap="round" stroke-linejoin="round"/>
<path d="M72.80 202.90L73.12 202.90L73.43 202.90L73.75 202.90L74.06 202.90L74.38 202.90L74.70 202.90L75.01 202.90L75.33 202.90L75.65 202.90L75.96 202.90L76.28 202.90L76.59 202.90L76.91 202.90L77.23 202.90L77.54 202.90L77.86 202.90L78.18 202.90L78.49 202.90L78.81 202.90L79.12 202.90L79.44 202.90L79.76 202.90L80.07 202.90L80.39 202.90L80.71 202.90L81.02 202.90L81.34 202.90L81.65 202.90L81.97 202.90L82.29 202.90L82.60 202.90L82.92 202.90L83.24 202.90L83.55 202.90L83.87 202.90L84.19 202.90L84.50 202.90L84.82 202.90L85.13 202.90L85.45 202.90L85.77 202.90L86.08 202.90L86.40 202.90L86.71 202.90L87.03 202.90L87.35 202.90L87.66 202.90L87.98 202.90L88.30 202.90L88.61 202.90L88.93 202.90L89.25 202.90L89.56 202.90L89.88 202.90L90.19 202.90L90.51 202.90L90.83 202.90L91.14 202.90L91.46 202.90L91.77 202.90L92.09 202.90L92.41 202.90L92.72 202.90L93.04 202.90L93.36 202.90L93.67 202.90L93.99 202.90L94.30 202.90L94.62 202.90L94.94 202.90L95.25 202.90L95.57 202.90L95.89 202.90L96.20 202.90L96.52 202.90L96.83 202.90L97.15 202.90L97.47 202.90L97.78 202.90L98.10 202.90L98.42 202.90L98.73 202.90L99.05 202.90L99.36 202.90L99.68 202.90L100.00 202.90L100.31 202.90L100.63 202.90L100.95 202.90L101.26 202.90L101.58 202.89L101.89 202.89L102.21 202.89L102.53 202.89L102.84 202.89L103.16 202.89L103.48 202.89L103.79 202.88L104.11 202.88L104.42 202.88L104.74 202.87L105.06 202.87L105.37 202.86L105.69 202.86L106.01 202.85L106.32 202.84L106.64 202.83L106.95 202.82L107.27 202.81L107.59 202.80L107.90 202.79L108.22 202.77L108.54 202.75L108.85 202.73L109.17 202.71L109.48 202.69L109.80 202.66L110.12 202.63L110.43 202.60L110.75 202.56L111.07 202.52L111.38 202.48L111.70 202.43L112.01 202.38L112.33 202.32L112.65 202.26L112.96 202.19L113.28 202.12L113.60 202.04L113.91 201.95L114.23 201.85L114.55 201.75L114.86 201.64L115.18 201.52L115.49 201.40L115.81 201.26L116.13 201.11L116.44 200.96L116.76 200.79L117.07 200.61L117.39 200.43L117.71 200.22L118.02 200.01L118.34 199.79L118.66 199.55L118.97 199.29L119.29 199.03L119.60 198.75L119.92 198.45L120.24 198.14L120.55 197.81L120.87 197.47L121.19 197.11L121.50 196.74L121.82 196.35L122.13 195.94L122.45 195.51L122.77 195.07L123.08 194.61L123.40 194.13L123.72 193.64L124.03 193.13L124.35 192.60L124.66 192.05L124.98 191.48L125.30 190.90L125.61 190.30L125.93 189.68L126.25 189.04L126.56 188.39L126.88 187.72L127.19 187.04L127.51 186.34L127.83 185.62L128.14 184.89L128.46 184.14L128.78 183.38L129.09 182.61L129.41 181.82L129.72 181.02L130.04 180.20L130.36 179.38L130.67 178.54L130.99 177.70L131.31 176.85L131.62 175.98L131.94 175.11L132.25 174.23L132.57 173.35L132.89 172.45L133.20 171.56L133.52 170.66L133.84 169.75L134.15 168.85L134.47 167.94L134.78 167.03L135.10 166.11L135.42 165.20L135.73 164.29L136.05 163.38L136.37 162.48L136.68 161.57L137.00 160.67L137.31 159.78L137.63 158.88L137.95 158.00L138.26 157.12L138.58 156.24L138.90 155.37L139.21 154.51L139.53 153.66L139.84 152.82L140.16 151.98L140.48 151.16L140.79 150.34L141.11 149.53L141.43 148.74L141.74 147.95L142.06 147.17L142.38 146.41L142.69 145.66L143.01 144.91L143.32 144.18L143.64 143.46L143.96 142.75L144.27 142.06L144.59 141.37L144.91 140.70L145.22 140.04L145.54 139.39L145.85 138.75L146.17 138.13L146.49 137.51L146.80 136.91L147.12 136.32L147.44 135.75L147.75 135.18L148.07 134.63L148.38 134.08L148.70 133.55L149.02 133.03L149.33 132.53L149.65 132.03L149.97 131.54L150.28 131.07L150.60 130.60L150.91 130.15L151.23 129.71L151.55 129.28L151.86 128.85L152.18 128.44L152.50 128.04L152.81 127.65L153.13 127.26L153.44 126.89L153.76 126.53L154.08 126.17L154.39 125.83L154.71 125.49L155.02 125.16L155.34 124.84L155.66 124.53L155.97 124.23L156.29 123.93L156.61 123.64L156.92 123.36L157.24 123.09L157.56 122.82L157.87 122.57L158.19 122.32L158.50 122.07L158.82 121.84L159.14 121.61L159.45 121.38L159.77 121.16L160.08 120.95L160.40 120.75L160.72 120.55L161.03 120.35L161.35 120.17L161.67 119.98L161.98 119.81L162.30 119.63L162.62 119.47L162.93 119.31L163.25 119.15L163.56 119.00L163.88 118.85L164.20 118.71L164.51 118.57L164.83 118.43L165.15 118.30L165.46 118.18L165.78 118.05L166.09 117.94L166.41 117.82L166.73 117.71L167.04 117.60L167.36 117.50L167.67 117.40L167.99 117.30L168.31 117.21L168.62 117.12L168.94 117.03L169.26 116.94L169.57 116.86L169.89 116.78L170.20 116.71L170.52 116.63L170.84 116.56L171.15 116.49L171.47 116.43L171.79 116.36L172.10 116.30L172.42 116.24L172.74 116.18L173.05 116.13L173.37 116.07L173.68 116.02L174.00 115.97L174.32 115.92L174.63 115.88L174.95 115.83L175.26 115.79L175.58 115.75L175.90 115.71L176.21 115.67L176.53 115.64L176.85 115.60L177.16 115.57L177.48 115.53L177.80 115.50L178.11 115.47L178.43 115.44L178.74 115.42L179.06 115.39L179.38 115.36L179.69 115.34L180.01 115.32L180.32 115.29L180.64 115.27L180.96 115.25L181.27 115.23L181.59 115.21L181.91 115.20L182.22 115.18L182.54 115.16L182.86 115.15L183.17 115.13L183.49 115.12L183.80 115.10L184.12 115.09L184.44 115.08L184.75 115.07L185.07 115.05L185.38 115.04L185.70 115.03L186.02 115.02L186.33 115.01L186.65 115.01L186.97 115.00L187.28 114.99L187.60 114.98L187.91 114.97L188.23 114.97L188.55 114.96L188.86 114.95L189.18 114.95L189.50 114.94L189.81 114.94L190.13 114.93L190.44 114.93L190.76 114.92L191.08 114.92L191.39 114.92L191.71 114.91L192.03 114.91L192.34 114.90L192.66 114.90L192.97 114.90L193.29 114.90L193.61 114.89L193.92 114.89L194.24 114.89L194.56 114.89L194.87 114.88L195.19 114.88L195.50 114.88L195.82 114.88L196.14 114.88L196.45 114.88L196.77 114.87L197.09 114.87L197.40 114.87L197.72 114.87L198.03 114.87L198.35 114.87L198.67 114.87L198.98 114.87L199.30 114.87L199.62 114.86L199.93 114.86L200.25 114.86L200.56 114.86L200.88 114.86L201.20 114.86L201.51 114.86L201.83 114.86L202.15 114.86L202.46 114.86L202.78 114.86L203.09 114.86L203.41 114.86L203.73 114.86L204.04 114.86L204.36 114.86L204.68 114.86L204.99 114.86L205.31 114.86L205.62 114.86L205.94 114.86L206.26 114.86L206.57 114.86L206.89 114.86L207.21 114.86L207.52 114.86L207.84 114.86L208.16 114.86L208.47 114.86L208.79 114.86L209.10 114.86L209.42 114.86L209.74 114.86L210.05 114.86L210.37 114.86L210.69 114.86L211.00 114.86L211.32 114.86L211.63 114.86L211.95 114.86L212.27 114.86L212.58 114.86L212.90 114.86L213.22 114.86L213.53 114.86L213.85 114.86L214.16 114.86L214.48 114.86L214.80 114.86L215.11 114.86L215.43 114.86L215.75 114.86L216.06 114.86L216.38 114.86L216.69 114.86L217.01 114.86L217.33 114.86L217.64 114.86L217.96 114.86L218.28 114.86L218.59 114.86L218.91 114.86L219.22 114.86L219.54 114.86L219.86 114.86L220.17 114.86L220.49 114.86L220.81 114.86L221.12 114.86L221.44 114.86L221.75 114.86L222.07 114.86L222.39 114.86L222.70 114.86L223.02 114.86L223.34 114.86L223.65 114.86L223.97 114.86L224.28 114.86L224.60 114.86L224.92 114.86L225.23 114.86L225.55 114.86L225.87 114.86L226.18 114.86L226.50 114.86L226.81 114.86L227.13 114.86L227.45 114.86L227.76 114.86L228.08 114.86L228.40 114.86L228.71 114.86L229.03 114.86L229.34 114.86L229.66 114.86L229.98 114.86L230.29 114.86L230.61 114.86L230.92 114.86L231.24 114.86L231.56 114.86L231.87 114.86L232.19 114.86L232.51 114.86L232.82 114.86L233.14 114.86L233.46 114.86L233.77 114.86L234.09 114.86L234.40 114.86L234.72 114.86L235.04 114.86L235.35 114.86L235.67 114.86L235.99 114.86L236.30 114.86L236.62 114.86L236.93 114.86L237.25 114.86L237.57 114.86L237.88 114.86L238.20 114.86L238.52 114.86L238.83 114.86L239.15 114.86L239.46 114.86L239.78 114.86L240.10 114.86L240.41 114.86L240.73 114.86L241.05 114.86L241.36 114.86L241.68 114.86L241.99 114.86L242.31 114.86L242.63 114.86L242.94 114.86L243.26 114.86L243.57 114.86L243.89 114.86L244.21 114.86L244.52 114.86L244.84 114.86L245.16 114.85L245.47 114.85L245.79 114.85L246.11 114.85L246.42 114.85L246.74 114.85L247.05 114.85L247.37 114.85L247.69 114.85L248.00 114.85L248.32 114.85L248.63 114.85L248.95 114.85L249.27 114.85L249.58 114.85L249.90 114.85L250.22 114.85L250.53 114.85L250.85 114.85L251.17 114.84L251.48 114.84L251.80 114.84L252.11 114.84L252.43 114.84L252.75 114.84L253.06 114.84L253.38 114.84L253.69 114.83L254.01 114.83L254.33 114.83L254.64 114.83L254.96 114.83L255.28 114.82L255.59 114.82L255.91 114.82L256.23 114.82L256.54 114.81L256.86 114.81L257.17 114.81L257.49 114.80L257.81 114.80L258.12 114.79L258.44 114.79L258.75 114.79L259.07 114.78L259.39 114.78L259.70 114.77L260.02 114.77L260.34 114.76L260.65 114.75L260.97 114.75L261.28 114.74L261.60 114.73L261.92 114.72L262.23 114.72L262.55 114.71L262.87 114.70L263.18 114.69L263.50 114.68L263.81 114.67L264.13 114.66L264.45 114.65L264.76 114.64L265.08 114.62L265.40 114.61L265.71 114.60L266.03 114.58L266.35 114.57L266.66 114.55L266.98 114.53L267.29 114.52L267.61 114.50L267.93 114.48L268.24 114.46L268.56 114.44L268.88 114.42L269.19 114.40L269.51 114.37L269.82 114.35L270.14 114.32L270.46 114.30L270.77 114.27L271.09 114.24L271.41 114.21L271.72 114.18L272.04 114.15L272.35 114.11L272.67 114.08L272.99 114.04L273.30 114.00L273.62 113.96L273.94 113.92L274.25 113.88L274.57 113.84L274.88 113.79L275.20 113.74L275.52 113.69L275.83 113.64L276.15 113.59L276.47 113.53L276.78 113.47L277.10 113.41L277.41 113.35L277.73 113.29L278.05 113.22L278.36 113.15L278.68 113.08L279.00 113.01L279.31 112.93L279.63 112.85L279.94 112.77L280.26 112.68L280.58 112.60L280.89 112.51L281.21 112.41L281.52 112.31L281.84 112.21L282.16 112.11L282.47 112.00L282.79 111.89L283.11 111.78L283.42 111.66L283.74 111.54L284.06 111.41L284.37 111.28L284.69 111.15L285.00 111.01L285.32 110.86L285.64 110.72L285.95 110.56L286.27 110.41L286.59 110.25L286.90 110.08L287.22 109.91L287.53 109.73L287.85 109.55L288.17 109.36L288.48 109.17L288.80 108.97L289.12 108.76L289.43 108.55L289.75 108.33L290.06 108.11L290.38 107.88L290.70 107.64L291.01 107.40L291.33 107.15L291.64 106.89L291.96 106.62L292.28 106.35L292.59 106.07L292.91 105.78L293.23 105.49L293.54 105.19L293.86 104.87L294.18 104.55L294.49 104.23L294.81 103.89L295.12 103.54L295.44 103.19L295.76 102.82L296.07 102.45L296.39 102.07L296.70 101.68L297.02 101.27L297.34 100.86L297.65 100.44L297.97 100.01L298.29 99.56L298.60 99.11L298.92 98.65L299.24 98.17L299.55 97.69L299.87 97.19L300.18 96.68L300.50 96.16L300.82 95.63L301.13 95.09L301.45 94.53L301.76 93.97L302.08 93.39L302.40 92.80L302.71 92.20L303.03 91.59L303.35 90.96L303.66 90.33L303.98 89.68L304.30 89.02L304.61 88.34L304.93 87.66L305.24 86.96L305.56 86.25L305.88 85.53L306.19 84.80L306.51 84.06L306.82 83.30L307.14 82.54L307.46 81.76L307.77 80.98L308.09 80.18L308.41 79.37L308.72 78.56L309.04 77.73L309.36 76.89L309.67 76.05L309.99 75.20L310.30 74.34L310.62 73.47L310.94 72.60L311.25 71.72L311.57 70.83L311.88 69.94L312.20 69.04L312.52 68.14L312.83 67.24L313.15 66.33L313.47 65.42L313.78 64.51L314.10 63.60L314.42 62.69L314.73 61.78L315.05 60.87L315.36 59.96L315.68 59.06L316.00 58.16L316.31 57.26L316.63 56.37L316.94 55.48L317.26 54.60L317.58 53.73L317.89 52.87L318.21 52.01L318.53 51.17L318.84 50.33L319.16 49.51L319.48 48.70L319.79 47.90L320.11 47.11L320.42 46.33L320.74 45.57L321.06 44.83L321.37 44.09L321.69 43.38L322.01 42.68L322.32 41.99L322.64 41.32L322.95 40.67L323.27 40.03L323.59 39.42L323.90 38.82L324.22 38.23L324.54 37.67L324.85 37.12L325.17 36.59L325.48 36.07L325.80 35.58L326.12 35.10L326.43 34.64L326.75 34.20L327.06 33.77L327.38 33.37L327.70 32.97L328.01 32.60L328.33 32.24L328.65 31.90L328.96 31.57L329.28 31.26L329.60 30.97L329.91 30.69L330.23 30.42L330.54 30.17L330.86 29.93L331.18 29.70L331.49 29.49L331.81 29.29L332.12 29.10L332.44 28.92L332.76 28.76L333.07 28.60L333.39 28.45L333.71 28.32L334.02 28.19L334.34 28.07L334.66 27.96L334.97 27.86L335.29 27.77L335.60 27.68L335.92 27.60L336.24 27.52L336.55 27.46L336.87 27.39L337.19 27.34L337.50 27.28L337.82 27.23L338.13 27.19L338.45 27.15L338.77 27.11L339.08 27.08L339.40 27.05L339.72 27.02L340.03 27.00L340.35 26.98L340.66 26.96L340.98 26.94L341.30 26.93L341.61 26.91L341.93 26.90L342.25 26.89L342.56 26.88L342.88 26.87L343.19 26.86L343.51 26.86L343.83 26.85L344.14 26.85L344.46 26.84L344.77 26.84L345.09 26.83L345.41 26.83L345.72 26.83L346.04 26.83L346.36 26.82L346.67 26.82L346.99 26.82L347.31 26.82L347.62 26.82L347.94 26.82L348.25 26.82L348.57 26.82L348.89 26.82L349.20 26.82L349.52 26.82L349.84 26.82L350.15 26.81L350.47 26.81L350.78 26.81L351.10 26.81L351.42 26.81L351.73 26.81L352.05 26.81L352.37 26.81L352.68 26.81L353.00 26.81L353.31 26.81L353.63 26.81L353.95 26.81L354.26 26.81L354.58 26.81L354.89 26.81L355.21 26.81L355.53 26.81L355.84 26.81L356.16 26.81L356.48 26.81L356.79 26.81L357.11 26.81L357.43 26.81L357.74 26.81L358.06 26.81L358.37 26.81L358.69 26.81L359.01 26.81L359.32 26.81L359.64 26.81L359.96 26.81L360.27 26.81L360.59 26.81L360.90 26.81L361.22 26.81L361.54 26.81L361.85 26.81L362.17 26.81L362.49 26.81L362.80 26.81L363.12 26.81L363.43 26.81L363.75 26.81L364.07 26.81L364.38 26.81L364.70 26.81L365.01 26.81L365.33 26.81L365.65 26.81L365.96 26.81L366.28 26.81L366.60 26.81L366.91 26.81L367.23 26.81L367.55 26.81L367.86 26.81L368.18 26.81L368.49 26.81L368.81 26.81L369.13 26.81L369.44 26.81L369.76 26.81L370.07 26.81L370.39 26.81L370.71 26.81L371.02 26.81L371.34 26.81L371.66 26.81L371.97 26.81L372.29 26.81L372.61 26.81L372.92 26.81L373.24 26.81L373.55 26.81L373.87 26.81L374.19 26.81L374.50 26.81L374.82 26.81L375.13 26.81L375.45 26.81L375.77 26.81L376.08 26.81L376.40 26.81" fill="none" stroke="#ff8000" stroke-width="2.60" stroke-linecap="round" stroke-linejoin="round"/>
<path d="M66.50 212.40L66.50 17.10L382.60 17.10L382.60 212.40Z" fill="none" stroke="#666666" stroke-width="0.85"/>
<path d="M72.50 212.40v-1.90M72.50 17.10v1.90M85.50 212.40v-1.90M85.50 17.10v1.90M98.50 212.40v-3.30M98.50 17.10v3.30M110.50 212.40v-1.90M110.50 17.10v1.90M123.50 212.40v-1.90M123.50 17.10v1.90M136.50 212.40v-1.90M136.50 17.10v1.90M148.50 212.40v-1.90M148.50 17.10v1.90M161.50 212.40v-3.30M161.50 17.10v3.30M174.50 212.40v-1.90M174.50 17.10v1.90M186.50 212.40v-1.90M186.50 17.10v1.90M199.50 212.40v-1.90M199.50 17.10v1.90M211.50 212.40v-1.90M211.50 17.10v1.90M224.50 212.40v-3.30M224.50 17.10v3.30M237.50 212.40v-1.90M237.50 17.10v1.90M249.50 212.40v-1.90M249.50 17.10v1.90M262.50 212.40v-1.90M262.50 17.10v1.90M275.50 212.40v-1.90M275.50 17.10v1.90M287.50 212.40v-3.30M287.50 17.10v3.30M300.50 212.40v-1.90M300.50 17.10v1.90M313.50 212.40v-1.90M313.50 17.10v1.90M325.50 212.40v-1.90M325.50 17.10v1.90M338.50 212.40v-1.90M338.50 17.10v1.90M351.50 212.40v-3.30M351.50 17.10v3.30M363.50 212.40v-1.90M363.50 17.10v1.90M376.50 212.40v-1.90M376.50 17.10v1.90M66.50 208.50h1.90M66.50 202.50h3.30M382.60 202.50h-3.30M66.50 197.50h1.90M66.50 191.50h1.90M382.60 191.50h-1.90M66.50 186.50h1.90M66.50 180.50h1.90M382.60 180.50h-1.90M66.50 174.50h3.30M66.50 169.50h1.90M382.60 169.50h-1.90M66.50 163.50h1.90M66.50 158.50h1.90M382.60 158.50h-1.90M66.50 152.50h1.90M66.50 146.50h3.30M382.60 146.50h-3.30M66.50 141.50h1.90M66.50 135.50h1.90M382.60 135.50h-1.90M66.50 130.50h1.90M66.50 124.50h1.90M382.60 124.50h-1.90M66.50 118.50h3.30M66.50 113.50h1.90M382.60 113.50h-1.90M66.50 107.50h1.90M66.50 102.50h1.90M382.60 102.50h-1.90M66.50 96.50h1.90M66.50 90.50h3.30M382.60 90.50h-3.30M66.50 85.50h1.90M66.50 79.50h1.90M382.60 79.50h-1.90M66.50 73.50h1.90M66.50 68.50h1.90M382.60 68.50h-1.90M66.50 62.50h3.30M66.50 57.50h1.90M382.60 57.50h-1.90M66.50 51.50h1.90M66.50 45.50h1.90M382.60 45.50h-1.90M66.50 40.50h1.90M66.50 34.50h3.30M382.60 34.50h-3.30M66.50 29.50h1.90M66.50 23.50h1.90M382.60 23.50h-1.90M66.50 17.50h1.90" fill="none" stroke="#666666" stroke-width="0.45"/>
<text x="97.70" y="230.00" text-anchor="middle">−10</text>
<text x="160.95" y="230.00" text-anchor="middle">−5</text>
<text x="224.20" y="230.00" text-anchor="middle">0</text>
<text x="287.45" y="230.00" text-anchor="middle">5</text>
<text x="350.70" y="230.00" text-anchor="middle">10</text>
<text x="61.90" y="207.00" text-anchor="end">0.0</text>
<text x="61.90" y="179.00" text-anchor="end">0.5</text>
<text x="61.90" y="151.00" text-anchor="end">1.0</text>
<text x="61.90" y="123.00" text-anchor="end">1.5</text>
<text x="61.90" y="95.00" text-anchor="end">2.0</text>
<text x="61.90" y="67.00" text-anchor="end">2.5</text>
<text x="61.90" y="39.00" text-anchor="end">3.0</text>
<text x="224.60" y="255.00" text-anchor="middle">x</text>
<line x1="615.00" y1="17.10" x2="615.00" y2="212.40" stroke="#c4c4c4" stroke-width="1"/>
<path d="M530.00 203.00L530.31 203.00L530.63 203.00L530.94 203.00L531.26 203.00L531.58 203.00L531.89 203.00L532.21 203.00L532.52 203.00L532.84 203.00L533.16 203.00L533.47 203.00L533.79 203.00L534.10 203.00L534.42 203.00L534.74 203.00L535.05 203.00L535.37 203.00L535.68 203.00L536.00 203.00L536.32 203.00L536.63 203.00L536.95 203.00L537.26 203.00L537.58 203.00L537.90 203.00L538.21 203.00L538.53 203.00L538.84 203.00L539.16 203.00L539.48 203.00L539.79 203.00L540.11 202.99L540.42 202.99L540.74 202.99L541.06 202.99L541.37 202.99L541.69 202.99L542.00 202.99L542.32 202.99L542.64 202.99L542.95 202.99L543.27 202.99L543.58 202.99L543.90 202.99L544.22 202.99L544.53 202.99L544.85 202.99L545.16 202.99L545.48 202.99L545.80 202.99L546.11 202.99L546.43 202.99L546.74 202.99L547.06 202.98L547.38 202.98L547.69 202.98L548.01 202.98L548.32 202.98L548.64 202.98L548.96 202.98L549.27 202.98L549.59 202.98L549.90 202.98L550.22 202.98L550.54 202.97L550.85 202.97L551.17 202.97L551.48 202.97L551.80 202.97L552.12 202.97L552.43 202.96L552.75 202.96L553.06 202.96L553.38 202.96L553.70 202.96L554.01 202.95L554.33 202.95L554.64 202.95L554.96 202.95L555.28 202.94L555.59 202.94L555.91 202.94L556.22 202.94L556.54 202.93L556.86 202.93L557.17 202.93L557.49 202.92L557.80 202.92L558.12 202.91L558.44 202.91L558.75 202.90L559.07 202.90L559.38 202.89L559.70 202.89L560.02 202.88L560.33 202.88L560.65 202.87L560.96 202.86L561.28 202.86L561.60 202.85L561.91 202.84L562.23 202.83L562.54 202.83L562.86 202.82L563.18 202.81L563.49 202.80L563.81 202.79L564.12 202.78L564.44 202.76L564.76 202.75L565.07 202.74L565.39 202.73L565.70 202.71L566.02 202.70L566.34 202.68L566.65 202.67L566.97 202.65L567.28 202.63L567.60 202.61L567.92 202.59L568.23 202.57L568.55 202.55L568.86 202.53L569.18 202.50L569.50 202.48L569.81 202.45L570.13 202.42L570.44 202.39L570.76 202.36L571.08 202.33L571.39 202.29L571.71 202.26L572.02 202.22L572.34 202.18L572.66 202.14L572.97 202.09L573.29 202.05L573.60 202.00L573.92 201.95L574.24 201.89L574.55 201.84L574.87 201.78L575.18 201.71L575.50 201.65L575.82 201.58L576.13 201.51L576.45 201.43L576.76 201.35L577.08 201.27L577.40 201.18L577.71 201.09L578.03 200.99L578.34 200.89L578.66 200.78L578.98 200.67L579.29 200.55L579.61 200.42L579.92 200.29L580.24 200.15L580.56 200.01L580.87 199.86L581.19 199.70L581.50 199.53L581.82 199.35L582.14 199.17L582.45 198.97L582.77 198.77L583.08 198.56L583.40 198.33L583.72 198.09L584.03 197.85L584.35 197.59L584.66 197.31L584.98 197.03L585.30 196.73L585.61 196.41L585.93 196.08L586.24 195.73L586.56 195.37L586.88 194.99L587.19 194.58L587.51 194.16L587.82 193.72L588.14 193.26L588.46 192.78L588.77 192.27L589.09 191.74L589.40 191.18L589.72 190.59L590.04 189.98L590.35 189.34L590.67 188.67L590.98 187.97L591.30 187.23L591.62 186.46L591.93 185.66L592.25 184.82L592.56 183.93L592.88 183.01L593.20 182.05L593.51 181.05L593.83 180.00L594.14 178.90L594.46 177.76L594.78 176.57L595.09 175.32L595.41 174.03L595.72 172.68L596.04 171.27L596.36 169.80L596.67 168.28L596.99 166.69L597.30 165.04L597.62 163.33L597.94 161.55L598.25 159.71L598.57 157.79L598.88 155.81L599.20 153.76L599.52 151.63L599.83 149.44L600.15 147.17L600.46 144.83L600.78 142.41L601.10 139.92L601.41 137.36L601.73 134.73L602.04 132.03L602.36 129.25L602.68 126.41L602.99 123.50L603.31 120.53L603.62 117.50L603.94 114.41L604.26 111.26L604.57 108.07L604.89 104.83L605.20 101.55L605.52 98.24L605.84 94.90L606.15 91.54L606.47 88.17L606.78 84.79L607.10 81.41L607.42 78.05L607.73 74.70L608.05 71.39L608.36 68.12L608.68 64.90L609.00 61.74L609.31 58.66L609.63 55.66L609.94 52.75L610.26 49.95L610.58 47.27L610.89 44.72L611.21 42.30L611.52 40.04L611.84 37.93L612.16 36.00L612.47 34.24L612.79 32.67L613.10 31.29L613.42 30.12L613.74 29.14L614.05 28.38L614.37 27.84L614.68 27.51L615.00 27.40L615.32 27.51L615.63 27.84L615.95 28.38L616.26 29.14L616.58 30.12L616.90 31.29L617.21 32.67L617.53 34.24L617.84 36.00L618.16 37.93L618.48 40.04L618.79 42.30L619.11 44.72L619.42 47.27L619.74 49.95L620.06 52.75L620.37 55.66L620.69 58.66L621.00 61.74L621.32 64.90L621.64 68.12L621.95 71.39L622.27 74.70L622.58 78.05L622.90 81.41L623.22 84.79L623.53 88.17L623.85 91.54L624.16 94.90L624.48 98.24L624.80 101.55L625.11 104.83L625.43 108.07L625.74 111.26L626.06 114.41L626.38 117.50L626.69 120.53L627.01 123.50L627.32 126.41L627.64 129.25L627.96 132.03L628.27 134.73L628.59 137.36L628.90 139.92L629.22 142.41L629.54 144.83L629.85 147.17L630.17 149.44L630.48 151.63L630.80 153.76L631.12 155.81L631.43 157.79L631.75 159.71L632.06 161.55L632.38 163.33L632.70 165.04L633.01 166.69L633.33 168.28L633.64 169.80L633.96 171.27L634.28 172.68L634.59 174.03L634.91 175.32L635.22 176.57L635.54 177.76L635.86 178.90L636.17 180.00L636.49 181.05L636.80 182.05L637.12 183.01L637.44 183.93L637.75 184.82L638.07 185.66L638.38 186.46L638.70 187.23L639.02 187.97L639.33 188.67L639.65 189.34L639.96 189.98L640.28 190.59L640.60 191.18L640.91 191.74L641.23 192.27L641.54 192.78L641.86 193.26L642.18 193.72L642.49 194.16L642.81 194.58L643.12 194.99L643.44 195.37L643.76 195.73L644.07 196.08L644.39 196.41L644.70 196.73L645.02 197.03L645.34 197.31L645.65 197.59L645.97 197.85L646.28 198.09L646.60 198.33L646.92 198.56L647.23 198.77L647.55 198.97L647.86 199.17L648.18 199.35L648.50 199.53L648.81 199.70L649.13 199.86L649.44 200.01L649.76 200.15L650.08 200.29L650.39 200.42L650.71 200.55L651.02 200.67L651.34 200.78L651.66 200.89L651.97 200.99L652.29 201.09L652.60 201.18L652.92 201.27L653.24 201.35L653.55 201.43L653.87 201.51L654.18 201.58L654.50 201.65L654.82 201.71L655.13 201.78L655.45 201.84L655.76 201.89L656.08 201.95L656.40 202.00L656.71 202.05L657.03 202.09L657.34 202.14L657.66 202.18L657.98 202.22L658.29 202.26L658.61 202.29L658.92 202.33L659.24 202.36L659.56 202.39L659.87 202.42L660.19 202.45L660.50 202.48L660.82 202.50L661.14 202.53L661.45 202.55L661.77 202.57L662.08 202.59L662.40 202.61L662.72 202.63L663.03 202.65L663.35 202.67L663.66 202.68L663.98 202.70L664.30 202.71L664.61 202.73L664.93 202.74L665.24 202.75L665.56 202.76L665.88 202.78L666.19 202.79L666.51 202.80L666.82 202.81L667.14 202.82L667.46 202.83L667.77 202.83L668.09 202.84L668.40 202.85L668.72 202.86L669.04 202.86L669.35 202.87L669.67 202.88L669.98 202.88L670.30 202.89L670.62 202.89L670.93 202.90L671.25 202.90L671.56 202.91L671.88 202.91L672.20 202.92L672.51 202.92L672.83 202.93L673.14 202.93L673.46 202.93L673.78 202.94L674.09 202.94L674.41 202.94L674.72 202.94L675.04 202.95L675.36 202.95L675.67 202.95L675.99 202.95L676.30 202.96L676.62 202.96L676.94 202.96L677.25 202.96L677.57 202.96L677.88 202.97L678.20 202.97L678.52 202.97L678.83 202.97L679.15 202.97L679.46 202.97L679.78 202.98L680.10 202.98L680.41 202.98L680.73 202.98L681.04 202.98L681.36 202.98L681.68 202.98L681.99 202.98L682.31 202.98L682.62 202.98L682.94 202.98L683.26 202.99L683.57 202.99L683.89 202.99L684.20 202.99L684.52 202.99L684.84 202.99L685.15 202.99L685.47 202.99L685.78 202.99L686.10 202.99L686.42 202.99L686.73 202.99L687.05 202.99L687.36 202.99L687.68 202.99L688.00 202.99L688.31 202.99L688.63 202.99L688.94 202.99L689.26 202.99L689.58 202.99L689.89 202.99L690.21 203.00L690.52 203.00L690.84 203.00L691.16 203.00L691.47 203.00L691.79 203.00L692.10 203.00L692.42 203.00L692.74 203.00L693.05 203.00L693.37 203.00L693.68 203.00L694.00 203.00L694.32 203.00L694.63 203.00L694.95 203.00L695.26 203.00L695.58 203.00L695.90 203.00L696.21 203.00L696.53 203.00L696.84 203.00L697.16 203.00L697.48 203.00L697.79 203.00L698.11 203.00L698.42 203.00L698.74 203.00L699.06 203.00L699.37 203.00L699.69 203.00L700.00 203.00" fill="none" stroke="#000000" stroke-width="2.60" stroke-linecap="round" stroke-linejoin="round"/>
<path d="M505.35 203.00L505.66 203.00L505.98 203.00L506.30 203.00L506.61 203.00L506.93 203.00L507.24 203.00L507.56 203.00L507.88 203.00L508.19 203.00L508.51 203.00L508.82 203.00L509.14 203.00L509.46 203.00L509.77 203.00L510.09 203.00L510.40 203.00L510.72 203.00L511.04 203.00L511.35 203.00L511.67 203.00L511.98 203.00L512.30 203.00L512.62 203.00L512.93 203.00L513.25 203.00L513.56 203.00L513.88 203.00L514.20 203.00L514.51 203.00L514.83 203.00L515.14 203.00L515.46 203.00L515.78 203.00L516.09 203.00L516.41 203.00L516.72 203.00L517.04 203.00L517.36 203.00L517.67 203.00L517.99 203.00L518.30 203.00L518.62 203.00L518.94 203.00L519.25 203.00L519.57 203.00L519.88 203.00L520.20 203.00L520.52 203.00L520.83 203.00L521.15 203.00L521.46 203.00L521.78 203.00L522.10 203.00L522.41 203.00L522.73 203.00L523.04 203.00L523.36 203.00L523.68 203.00L523.99 203.00L524.31 203.00L524.62 203.00L524.94 203.00L525.26 203.00L525.57 203.00L525.89 203.00L526.20 203.00L526.52 203.00L526.84 203.00L527.15 203.00L527.47 203.00L527.78 203.00L528.10 203.00L528.42 203.00L528.73 203.00L529.05 203.00L529.36 203.00L529.68 203.00L530.00 203.00L530.31 203.00L530.63 203.00L530.94 203.00L531.26 203.00L531.58 203.00L531.89 203.00L532.21 203.00L532.52 203.00L532.84 203.00L533.16 203.00L533.47 203.00L533.79 203.00L534.10 203.00L534.42 203.00L534.74 203.00L535.05 203.00L535.37 203.00L535.68 203.00L536.00 203.00L536.32 203.00L536.63 203.00L536.95 203.00L537.26 203.00L537.58 203.00L537.90 203.00L538.21 203.00L538.53 203.00L538.84 203.00L539.16 203.00L539.48 203.00L539.79 203.00L540.11 203.00L540.42 203.00L540.74 203.00L541.06 203.00L541.37 203.00L541.69 203.00L542.00 203.00L542.32 203.00L542.64 203.00L542.95 203.00L543.27 203.00L543.58 203.00L543.90 203.00L544.22 202.99L544.53 202.99L544.85 202.99L545.16 202.99L545.48 202.99L545.80 202.99L546.11 202.99L546.43 202.98L546.74 202.98L547.06 202.98L547.38 202.97L547.69 202.97L548.01 202.96L548.32 202.96L548.64 202.95L548.96 202.95L549.27 202.94L549.59 202.93L549.90 202.92L550.22 202.90L550.54 202.89L550.85 202.87L551.17 202.86L551.48 202.84L551.80 202.81L552.12 202.79L552.43 202.76L552.75 202.73L553.06 202.69L553.38 202.65L553.70 202.61L554.01 202.56L554.33 202.50L554.64 202.44L554.96 202.37L555.28 202.30L555.59 202.21L555.91 202.12L556.22 202.02L556.54 201.91L556.86 201.78L557.17 201.65L557.49 201.50L557.80 201.33L558.12 201.15L558.44 200.96L558.75 200.75L559.07 200.51L559.38 200.26L559.70 199.99L560.02 199.69L560.33 199.37L560.65 199.03L560.96 198.65L561.28 198.25L561.60 197.82L561.91 197.35L562.23 196.85L562.54 196.32L562.86 195.75L563.18 195.14L563.49 194.49L563.81 193.80L564.12 193.06L564.44 192.28L564.76 191.46L565.07 190.59L565.39 189.66L565.70 188.69L566.02 187.67L566.34 186.60L566.65 185.48L566.97 184.30L567.28 183.07L567.60 181.79L567.92 180.45L568.23 179.06L568.55 177.62L568.86 176.13L569.18 174.59L569.50 173.01L569.81 171.37L570.13 169.69L570.44 167.97L570.76 166.22L571.08 164.42L571.39 162.59L571.71 160.74L572.02 158.85L572.34 156.95L572.66 155.03L572.97 153.10L573.29 151.16L573.60 149.22L573.92 147.28L574.24 145.35L574.55 143.43L574.87 141.53L575.18 139.66L575.50 137.82L575.82 136.01L576.13 134.25L576.45 132.53L576.76 130.86L577.08 129.25L577.40 127.71L577.71 126.22L578.03 124.81L578.34 123.48L578.66 122.22L578.98 121.05L579.29 119.96L579.61 118.96L579.92 118.05L580.24 117.23L580.56 116.50L580.87 115.87L581.19 115.34L581.50 114.90L581.82 114.56L582.14 114.31L582.45 114.15L582.77 114.09L583.08 114.13L583.40 114.25L583.72 114.46L584.03 114.76L584.35 115.14L584.66 115.60L584.98 116.14L585.30 116.76L585.61 117.45L585.93 118.20L586.24 119.03L586.56 119.91L586.88 120.86L587.19 121.85L587.51 122.91L587.82 124.01L588.14 125.15L588.46 126.33L588.77 127.56L589.09 128.82L589.40 130.11L589.72 131.43L590.04 132.77L590.35 134.13L590.67 135.52L590.98 136.92L591.30 138.34L591.62 139.76L591.93 141.20L592.25 142.64L592.56 144.09L592.88 145.54L593.20 146.99L593.51 148.44L593.83 149.88L594.14 151.32L594.46 152.76L594.78 154.18L595.09 155.60L595.41 157.01L595.72 158.40L596.04 159.78L596.36 161.15L596.67 162.50L596.99 163.83L597.30 165.15L597.62 166.45L597.94 167.73L598.25 169.00L598.57 170.24L598.88 171.47L599.20 172.67L599.52 173.86L599.83 175.02L600.15 176.16L600.46 177.28L600.78 178.37L601.10 179.45L601.41 180.50L601.73 181.53L602.04 182.53L602.36 183.52L602.68 184.47L602.99 185.41L603.31 186.32L603.62 187.21L603.94 188.07L604.26 188.91L604.57 189.73L604.89 190.52L605.20 191.28L605.52 192.03L605.84 192.75L606.15 193.44L606.47 194.11L606.78 194.76L607.10 195.38L607.42 195.98L607.73 196.55L608.05 197.10L608.36 197.62L608.68 198.12L609.00 198.60L609.31 199.05L609.63 199.48L609.94 199.88L610.26 200.26L610.58 200.61L610.89 200.94L611.21 201.24L611.52 201.52L611.84 201.78L612.16 202.01L612.47 202.22L612.79 202.40L613.10 202.56L613.42 202.70M616.58 202.70L616.90 202.56L617.21 202.40L617.53 202.22L617.84 202.01L618.16 201.78L618.48 201.52L618.79 201.24L619.11 200.94L619.42 200.61L619.74 200.26L620.06 199.88L620.37 199.48L620.69 199.05L621.00 198.60L621.32 198.12L621.64 197.62L621.95 197.10L622.27 196.55L622.58 195.98L622.90 195.38L623.22 194.76L623.53 194.11L623.85 193.44L624.16 192.75L624.48 192.03L624.80 191.28L625.11 190.52L625.43 189.73L625.74 188.91L626.06 188.07L626.38 187.21L626.69 186.32L627.01 185.41L627.32 184.47L627.64 183.52L627.96 182.53L628.27 181.53L628.59 180.50L628.90 179.45L629.22 178.37L629.54 177.28L629.85 176.16L630.17 175.02L630.48 173.86L630.80 172.67L631.12 171.47L631.43 170.24L631.75 169.00L632.06 167.73L632.38 166.45L632.70 165.15L633.01 163.83L633.33 162.50L633.64 161.15L633.96 159.78L634.28 158.40L634.59 157.01L634.91 155.60L635.22 154.18L635.54 152.76L635.86 151.32L636.17 149.88L636.49 148.44L636.80 146.99L637.12 145.54L637.44 144.09L637.75 142.64L638.07 141.20L638.38 139.76L638.70 138.34L639.02 136.92L639.33 135.52L639.65 134.13L639.96 132.77L640.28 131.43L640.60 130.11L640.91 128.82L641.23 127.56L641.54 126.33L641.86 125.15L642.18 124.01L642.49 122.91L642.81 121.85L643.12 120.86L643.44 119.91L643.76 119.03L644.07 118.20L644.39 117.45L644.70 116.76L645.02 116.14L645.34 115.60L645.65 115.14L645.97 114.76L646.28 114.46L646.60 114.25L646.92 114.13L647.23 114.09L647.55 114.15L647.86 114.31L648.18 114.56L648.50 114.90L648.81 115.34L649.13 115.87L649.44 116.50L649.76 117.23L650.08 118.05L650.39 118.96L650.71 119.96L651.02 121.05L651.34 122.22L651.66 123.48L651.97 124.81L652.29 126.22L652.60 127.71L652.92 129.25L653.24 130.86L653.55 132.53L653.87 134.25L654.18 136.01L654.50 137.82L654.82 139.66L655.13 141.53L655.45 143.43L655.76 145.35L656.08 147.28L656.40 149.22L656.71 151.16L657.03 153.10L657.34 155.03L657.66 156.95L657.98 158.85L658.29 160.74L658.61 162.59L658.92 164.42L659.24 166.22L659.56 167.97L659.87 169.69L660.19 171.37L660.50 173.01L660.82 174.59L661.14 176.13L661.45 177.62L661.77 179.06L662.08 180.45L662.40 181.79L662.72 183.07L663.03 184.30L663.35 185.48L663.66 186.60L663.98 187.67L664.30 188.69L664.61 189.66L664.93 190.59L665.24 191.46L665.56 192.28L665.88 193.06L666.19 193.80L666.51 194.49L666.82 195.14L667.14 195.75L667.46 196.32L667.77 196.85L668.09 197.35L668.40 197.82L668.72 198.25L669.04 198.65L669.35 199.03L669.67 199.37L669.98 199.69L670.30 199.99L670.62 200.26L670.93 200.51L671.25 200.75L671.56 200.96L671.88 201.15L672.20 201.33L672.51 201.50L672.83 201.65L673.14 201.78L673.46 201.91L673.78 202.02L674.09 202.12L674.41 202.21L674.72 202.30L675.04 202.37L675.36 202.44L675.67 202.50L675.99 202.56L676.30 202.61L676.62 202.65L676.94 202.69L677.25 202.73L677.57 202.76L677.88 202.79L678.20 202.81L678.52 202.84L678.83 202.86L679.15 202.87L679.46 202.89L679.78 202.90L680.10 202.92L680.41 202.93L680.73 202.94L681.04 202.95L681.36 202.95L681.68 202.96L681.99 202.96L682.31 202.97L682.62 202.97L682.94 202.98L683.26 202.98L683.57 202.98L683.89 202.99L684.20 202.99L684.52 202.99L684.84 202.99L685.15 202.99L685.47 202.99L685.78 202.99L686.10 203.00L686.42 203.00L686.73 203.00L687.05 203.00L687.36 203.00L687.68 203.00L688.00 203.00L688.31 203.00L688.63 203.00L688.94 203.00L689.26 203.00L689.58 203.00L689.89 203.00L690.21 203.00L690.52 203.00L690.84 203.00L691.16 203.00L691.47 203.00L691.79 203.00L692.10 203.00L692.42 203.00L692.74 203.00L693.05 203.00L693.37 203.00L693.68 203.00L694.00 203.00L694.32 203.00L694.63 203.00L694.95 203.00L695.26 203.00L695.58 203.00L695.90 203.00L696.21 203.00L696.53 203.00L696.84 203.00L697.16 203.00L697.48 203.00L697.79 203.00L698.11 203.00L698.42 203.00L698.74 203.00L699.06 203.00L699.37 203.00L699.69 203.00L700.00 203.00L700.32 203.00L700.64 203.00L700.95 203.00L701.27 203.00L701.58 203.00L701.90 203.00L702.22 203.00L702.53 203.00L702.85 203.00L703.16 203.00L703.48 203.00L703.80 203.00L704.11 203.00L704.43 203.00L704.74 203.00L705.06 203.00L705.38 203.00L705.69 203.00L706.01 203.00L706.32 203.00L706.64 203.00L706.96 203.00L707.27 203.00L707.59 203.00L707.90 203.00L708.22 203.00L708.54 203.00L708.85 203.00L709.17 203.00L709.48 203.00L709.80 203.00L710.12 203.00L710.43 203.00L710.75 203.00L711.06 203.00L711.38 203.00L711.70 203.00L712.01 203.00L712.33 203.00L712.64 203.00L712.96 203.00L713.28 203.00L713.59 203.00L713.91 203.00L714.22 203.00L714.54 203.00L714.86 203.00L715.17 203.00L715.49 203.00L715.80 203.00L716.12 203.00L716.44 203.00L716.75 203.00L717.07 203.00L717.38 203.00L717.70 203.00L718.02 203.00L718.33 203.00L718.65 203.00L718.96 203.00L719.28 203.00L719.60 203.00L719.91 203.00L720.23 203.00L720.54 203.00L720.86 203.00L721.18 203.00L721.49 203.00L721.81 203.00L722.12 203.00L722.44 203.00L722.76 203.00L723.07 203.00L723.39 203.00L723.70 203.00L724.02 203.00L724.34 203.00L724.65 203.00" fill="none" stroke="#ff0000" stroke-width="2.60" stroke-linecap="round" stroke-linejoin="round"/>
<path d="M463.32 203.00L463.64 203.00L463.95 203.00L464.27 203.00L464.58 203.00L464.90 203.00L465.22 203.00L465.53 203.00L465.85 203.00L466.16 203.00L466.48 203.00L466.80 203.00L467.11 203.00L467.43 203.00L467.74 203.00L468.06 203.00L468.38 203.00L468.69 203.00L469.01 203.00L469.32 203.00L469.64 203.00L469.96 203.00L470.27 203.00L470.59 203.00L470.90 203.00L471.22 203.00L471.54 203.00L471.85 203.00L472.17 203.00L472.48 203.00L472.80 203.00L473.12 203.00L473.43 203.00L473.75 203.00L474.06 203.00L474.38 203.00L474.70 203.00L475.01 203.00L475.33 203.00L475.64 203.00L475.96 203.00L476.28 203.00L476.59 203.00L476.91 203.00L477.22 203.00L477.54 203.00L477.86 203.00L478.17 203.00L478.49 203.00L478.80 203.00L479.12 203.00L479.44 203.00L479.75 203.00L480.07 203.00L480.38 203.00L480.70 203.00L481.02 203.00L481.33 203.00L481.65 203.00L481.96 203.00L482.28 203.00L482.60 203.00L482.91 203.00L483.23 203.00L483.54 203.00L483.86 203.00L484.18 203.00L484.49 203.00L484.81 203.00L485.12 203.00L485.44 203.00L485.76 203.00L486.07 203.00L486.39 203.00L486.70 203.00L487.02 203.00L487.34 203.00L487.65 203.00L487.97 203.00L488.28 203.00L488.60 203.00L488.92 203.00L489.23 203.00L489.55 203.00L489.86 203.00L490.18 203.00L490.50 203.00L490.81 203.00L491.13 203.00L491.44 203.00L491.76 203.00L492.08 203.00L492.39 203.00L492.71 203.00L493.02 203.00L493.34 203.00L493.66 203.00L493.97 203.00L494.29 203.00L494.60 203.00L494.92 203.00L495.24 203.00L495.55 203.00L495.87 203.00L496.18 203.00L496.50 203.00L496.82 203.00L497.13 203.00L497.45 203.00L497.76 203.00L498.08 203.00L498.40 203.00L498.71 203.00L499.03 203.00L499.34 203.00L499.66 203.00L499.98 203.00L500.29 203.00L500.61 203.00L500.92 203.00L501.24 203.00L501.56 203.00L501.87 203.00L502.19 203.00L502.50 203.00L502.82 203.00L503.14 203.00L503.45 203.00L503.77 203.00L504.08 203.00L504.40 203.00L504.72 203.00L505.03 203.00L505.35 203.00L505.66 203.00L505.98 203.00L506.30 203.00L506.61 203.00L506.93 203.00L507.24 203.00L507.56 203.00L507.88 203.00L508.19 203.00L508.51 203.00L508.82 203.00L509.14 203.00L509.46 203.00L509.77 203.00L510.09 203.00L510.40 203.00L510.72 203.00L511.04 203.00L511.35 203.00L511.67 203.00L511.98 203.00L512.30 203.00L512.62 203.00L512.93 203.00L513.25 203.00L513.56 203.00L513.88 203.00L514.20 203.00L514.51 203.00L514.83 203.00L515.14 203.00L515.46 203.00L515.78 203.00L516.09 203.00L516.41 203.00L516.72 203.00L517.04 203.00L517.36 203.00L517.67 203.00L517.99 203.00L518.30 203.00L518.62 203.00L518.94 203.00L519.25 203.00L519.57 203.00L519.88 203.00L520.20 203.00L520.52 203.00L520.83 203.00L521.15 203.00L521.46 203.00L521.78 203.00L522.10 203.00L522.41 203.00L522.73 202.99L523.04 202.99L523.36 202.99L523.68 202.99L523.99 202.99L524.31 202.98L524.62 202.98L524.94 202.98L525.26 202.97L525.57 202.97L525.89 202.96L526.20 202.95L526.52 202.94L526.84 202.93L527.15 202.92L527.47 202.90L527.78 202.89L528.10 202.86L528.42 202.84L528.73 202.81L529.05 202.78L529.36 202.74L529.68 202.70L530.00 202.65L530.31 202.60L530.63 202.54L530.94 202.47L531.26 202.39L531.58 202.30L531.89 202.19L532.21 202.08L532.52 201.95L532.84 201.81L533.16 201.65L533.47 201.47L533.79 201.27L534.10 201.05L534.42 200.81L534.74 200.54L535.05 200.25L535.37 199.92L535.68 199.57L536.00 199.18L536.32 198.76L536.63 198.31L536.95 197.81L537.26 197.28L537.58 196.70L537.90 196.07L538.21 195.40L538.53 194.68L538.84 193.91L539.16 193.09L539.48 192.22L539.79 191.29L540.11 190.30L540.42 189.26L540.74 188.16L541.06 187.00L541.37 185.78L541.69 184.50L542.00 183.16L542.32 181.77L542.64 180.32L542.95 178.82L543.27 177.26L543.58 175.64L543.90 173.98L544.22 172.28L544.53 170.52L544.85 168.73L545.16 166.90L545.48 165.04L545.80 163.15L546.11 161.24L546.43 159.31L546.74 157.37L547.06 155.42L547.38 153.47L547.69 151.52L548.01 149.59L548.32 147.67L548.64 145.77L548.96 143.90L549.27 142.06L549.59 140.26L549.90 138.51L550.22 136.81L550.54 135.17L550.85 133.59L551.17 132.07L551.48 130.62L551.80 129.25L552.12 127.96L552.43 126.75L552.75 125.62L553.06 124.58L553.38 123.63L553.70 122.76L554.01 121.99L554.33 121.32L554.64 120.73L554.96 120.24L555.28 119.84L555.59 119.53L555.91 119.31L556.22 119.19L556.54 119.15L556.86 119.19L557.17 119.32L557.49 119.53L557.80 119.82L558.12 120.18L558.44 120.62L558.75 121.12L559.07 121.69L559.38 122.33L559.70 123.02L560.02 123.77L560.33 124.57L560.65 125.42L560.96 126.31L561.28 127.25L561.60 128.23L561.91 129.24L562.23 130.29L562.54 131.36L562.86 132.47L563.18 133.59L563.49 134.74L563.81 135.90L564.12 137.08L564.44 138.28L564.76 139.48L565.07 140.69L565.39 141.91L565.70 143.13L566.02 144.36L566.34 145.58L566.65 146.81L566.97 148.03L567.28 149.24L567.60 150.45L567.92 151.66L568.23 152.85L568.55 154.04L568.86 155.22L569.18 156.38L569.50 157.53L569.81 158.67L570.13 159.80L570.44 160.91L570.76 162.01L571.08 163.09L571.39 164.15L571.71 165.20L572.02 166.24L572.34 167.25L572.66 168.25L572.97 169.23L573.29 170.20L573.60 171.14L573.92 172.07L574.24 172.98L574.55 173.88L574.87 174.75L575.18 175.61L575.50 176.45L575.82 177.27L576.13 178.07L576.45 178.86L576.76 179.63L577.08 180.38L577.40 181.11L577.71 181.83L578.03 182.53L578.34 183.21L578.66 183.88L578.98 184.53L579.29 185.16L579.61 185.78L579.92 186.39L580.24 186.97L580.56 187.54L580.87 188.10L581.19 188.64L581.50 189.17L581.82 189.68L582.14 190.18L582.45 190.66L582.77 191.13L583.08 191.59L583.40 192.04L583.72 192.47L584.03 192.89L584.35 193.29L584.66 193.68L584.98 194.07L585.30 194.44L585.61 194.79L585.93 195.14L586.24 195.48L586.56 195.80L586.88 196.12L587.19 196.42L587.51 196.71L587.82 197.00L588.14 197.27L588.46 197.54L588.77 197.79L589.09 198.04L589.40 198.28L589.72 198.51L590.04 198.73L590.35 198.94L590.67 199.14L590.98 199.34L591.30 199.53L591.62 199.71L591.93 199.88L592.25 200.05L592.56 200.21L592.88 200.36L593.20 200.51L593.51 200.65L593.83 200.79L594.14 200.92L594.46 201.04L594.78 201.16L595.09 201.27L595.41 201.38L595.72 201.48L596.04 201.58L596.36 201.67L596.67 201.76L596.99 201.84L597.30 201.92L597.62 202.00L597.94 202.07L598.25 202.13L598.57 202.20L598.88 202.26L599.20 202.31L599.52 202.37L599.83 202.42L600.15 202.46L600.46 202.51L600.78 202.55L601.10 202.59L601.41 202.62L601.73 202.66L602.04 202.69L602.36 202.72L602.68 202.75L602.99 202.77L603.31 202.79L603.62 202.82L603.94 202.84L604.26 202.85L604.57 202.87L604.89 202.88L605.20 202.90L605.52 202.91L605.84 202.92L606.15 202.93L606.47 202.94L606.78 202.95L607.10 202.96L607.42 202.96L607.73 202.97L608.05 202.97L608.36 202.98L608.68 202.98L609.00 202.99L609.31 202.99L609.63 202.99L609.94 202.99L610.26 202.99L610.58 203.00L610.89 203.00L611.21 203.00L611.52 203.00L611.84 203.00L612.16 203.00L612.47 203.00L612.79 203.00L613.10 203.00L613.42 203.00L613.74 203.00L614.05 203.00L614.37 203.00L614.68 203.00L615.00 203.00L615.32 203.00L615.63 203.00L615.95 203.00L616.26 203.00L616.58 203.00L616.90 203.00L617.21 203.00L617.53 203.00L617.84 203.00L618.16 203.00L618.48 203.00L618.79 203.00L619.11 203.00L619.42 203.00L619.74 202.99L620.06 202.99L620.37 202.99L620.69 202.99L621.00 202.99L621.32 202.98L621.64 202.98L621.95 202.97L622.27 202.97L622.58 202.96L622.90 202.96L623.22 202.95L623.53 202.94L623.85 202.93L624.16 202.92L624.48 202.91L624.80 202.90L625.11 202.88L625.43 202.87L625.74 202.85L626.06 202.84L626.38 202.82L626.69 202.79L627.01 202.77L627.32 202.75L627.64 202.72L627.96 202.69L628.27 202.66L628.59 202.62L628.90 202.59L629.22 202.55L629.54 202.51L629.85 202.46L630.17 202.42L630.48 202.37L630.80 202.31L631.12 202.26L631.43 202.20L631.75 202.13L632.06 202.07L632.38 202.00L632.70 201.92L633.01 201.84L633.33 201.76L633.64 201.67L633.96 201.58L634.28 201.48L634.59 201.38L634.91 201.27L635.22 201.16L635.54 201.04L635.86 200.92L636.17 200.79L636.49 200.65L636.80 200.51L637.12 200.36L637.44 200.21L637.75 200.05L638.07 199.88L638.38 199.71L638.70 199.53L639.02 199.34L639.33 199.14L639.65 198.94L639.96 198.73L640.28 198.51L640.60 198.28L640.91 198.04L641.23 197.79L641.54 197.54L641.86 197.27L642.18 197.00L642.49 196.71L642.81 196.42L643.12 196.12L643.44 195.80L643.76 195.48L644.07 195.14L644.39 194.79L644.70 194.44L645.02 194.07L645.34 193.68L645.65 193.29L645.97 192.89L646.28 192.47L646.60 192.04L646.92 191.59L647.23 191.13L647.55 190.66L647.86 190.18L648.18 189.68L648.50 189.17L648.81 188.64L649.13 188.10L649.44 187.54L649.76 186.97L650.08 186.39L650.39 185.78L650.71 185.16L651.02 184.53L651.34 183.88L651.66 183.21L651.97 182.53L652.29 181.83L652.60 181.11L652.92 180.38L653.24 179.63L653.55 178.86L653.87 178.07L654.18 177.27L654.50 176.45L654.82 175.61L655.13 174.75L655.45 173.88L655.76 172.98L656.08 172.07L656.40 171.14L656.71 170.20L657.03 169.23L657.34 168.25L657.66 167.25L657.98 166.24L658.29 165.20L658.61 164.15L658.92 163.09L659.24 162.01L659.56 160.91L659.87 159.80L660.19 158.67L660.50 157.53L660.82 156.38L661.14 155.22L661.45 154.04L661.77 152.85L662.08 151.66L662.40 150.45L662.72 149.24L663.03 148.03L663.35 146.81L663.66 145.58L663.98 144.36L664.30 143.13L664.61 141.91L664.93 140.69L665.24 139.48L665.56 138.28L665.88 137.08L666.19 135.90L666.51 134.74L666.82 133.59L667.14 132.47L667.46 131.36L667.77 130.29L668.09 129.24L668.40 128.23L668.72 127.25L669.04 126.31L669.35 125.42L669.67 124.57L669.98 123.77L670.30 123.02L670.62 122.33L670.93 121.69L671.25 121.12L671.56 120.62L671.88 120.18L672.20 119.82L672.51 119.53L672.83 119.32L673.14 119.19L673.46 119.15L673.78 119.19L674.09 119.31L674.41 119.53L674.72 119.84L675.04 120.24L675.36 120.73L675.67 121.32L675.99 121.99L676.30 122.76L676.62 123.63L676.94 124.58L677.25 125.62L677.57 126.75L677.88 127.96L678.20 129.25L678.52 130.62L678.83 132.07L679.15 133.59L679.46 135.17L679.78 136.81L680.10 138.51L680.41 140.26L680.73 142.06L681.04 143.90L681.36 145.77L681.68 147.67L681.99 149.59L682.31 151.52L682.62 153.47L682.94 155.42L683.26 157.37L683.57 159.31L683.89 161.24L684.20 163.15L684.52 165.04L684.84 166.90L685.15 168.73L685.47 170.52L685.78 172.28L686.10 173.98L686.42 175.64L686.73 177.26L687.05 178.82L687.36 180.32L687.68 181.77L688.00 183.16L688.31 184.50L688.63 185.78L688.94 187.00L689.26 188.16L689.58 189.26L689.89 190.30L690.21 191.29L690.52 192.22L690.84 193.09L691.16 193.91L691.47 194.68L691.79 195.40L692.10 196.07L692.42 196.70L692.74 197.28L693.05 197.81L693.37 198.31L693.68 198.76L694.00 199.18L694.32 199.57L694.63 199.92L694.95 200.25L695.26 200.54L695.58 200.81L695.90 201.05L696.21 201.27L696.53 201.47L696.84 201.65L697.16 201.81L697.48 201.95L697.79 202.08L698.11 202.19L698.42 202.30L698.74 202.39L699.06 202.47L699.37 202.54L699.69 202.60L700.00 202.65L700.32 202.70L700.64 202.74L700.95 202.78L701.27 202.81L701.58 202.84L701.90 202.86L702.22 202.89L702.53 202.90L702.85 202.92L703.16 202.93L703.48 202.94L703.80 202.95L704.11 202.96L704.43 202.97L704.74 202.97L705.06 202.98L705.38 202.98L705.69 202.98L706.01 202.99L706.32 202.99L706.64 202.99L706.96 202.99L707.27 202.99L707.59 203.00L707.90 203.00L708.22 203.00L708.54 203.00L708.85 203.00L709.17 203.00L709.48 203.00L709.80 203.00L710.12 203.00L710.43 203.00L710.75 203.00L711.06 203.00L711.38 203.00L711.70 203.00L712.01 203.00L712.33 203.00L712.64 203.00L712.96 203.00L713.28 203.00L713.59 203.00L713.91 203.00L714.22 203.00L714.54 203.00L714.86 203.00L715.17 203.00L715.49 203.00L715.80 203.00L716.12 203.00L716.44 203.00L716.75 203.00L717.07 203.00L717.38 203.00L717.70 203.00L718.02 203.00L718.33 203.00L718.65 203.00L718.96 203.00L719.28 203.00L719.60 203.00L719.91 203.00L720.23 203.00L720.54 203.00L720.86 203.00L721.18 203.00L721.49 203.00L721.81 203.00L722.12 203.00L722.44 203.00L722.76 203.00L723.07 203.00L723.39 203.00L723.70 203.00L724.02 203.00L724.34 203.00L724.65 203.00L724.97 203.00L725.28 203.00L725.60 203.00L725.92 203.00L726.23 203.00L726.55 203.00L726.86 203.00L727.18 203.00L727.50 203.00L727.81 203.00L728.13 203.00L728.44 203.00L728.76 203.00L729.08 203.00L729.39 203.00L729.71 203.00L730.02 203.00L730.34 203.00L730.66 203.00L730.97 203.00L731.29 203.00L731.60 203.00L731.92 203.00L732.24 203.00L732.55 203.00L732.87 203.00L733.18 203.00L733.50 203.00L733.82 203.00L734.13 203.00L734.45 203.00L734.76 203.00L735.08 203.00L735.40 203.00L735.71 203.00L736.03 203.00L736.34 203.00L736.66 203.00L736.98 203.00L737.29 203.00L737.61 203.00L737.92 203.00L738.24 203.00L738.56 203.00L738.87 203.00L739.19 203.00L739.50 203.00L739.82 203.00L740.14 203.00L740.45 203.00L740.77 203.00L741.08 203.00L741.40 203.00L741.72 203.00L742.03 203.00L742.35 203.00L742.66 203.00L742.98 203.00L743.30 203.00L743.61 203.00L743.93 203.00L744.24 203.00L744.56 203.00L744.88 203.00L745.19 203.00L745.51 203.00L745.82 203.00L746.14 203.00L746.46 203.00L746.77 203.00L747.09 203.00L747.40 203.00L747.72 203.00L748.04 203.00L748.35 203.00L748.67 203.00L748.98 203.00L749.30 203.00L749.62 203.00L749.93 203.00L750.25 203.00L750.56 203.00L750.88 203.00L751.20 203.00L751.51 203.00L751.83 203.00L752.14 203.00L752.46 203.00L752.78 203.00L753.09 203.00L753.41 203.00L753.72 203.00L754.04 203.00L754.36 203.00L754.67 203.00L754.99 203.00L755.30 203.00L755.62 203.00L755.94 203.00L756.25 203.00L756.57 203.00L756.88 203.00L757.20 203.00L757.52 203.00L757.83 203.00L758.15 203.00L758.46 203.00L758.78 203.00L759.10 203.00L759.41 203.00L759.73 203.00L760.04 203.00L760.36 203.00L760.68 203.00L760.99 203.00L761.31 203.00L761.62 203.00L761.94 203.00L762.26 203.00L762.57 203.00L762.89 203.00L763.20 203.00L763.52 203.00L763.84 203.00L764.15 203.00L764.47 203.00L764.78 203.00L765.10 203.00L765.42 203.00L765.73 203.00L766.05 203.00L766.36 203.00L766.68 203.00" fill="none" stroke="#0000ff" stroke-width="2.60" stroke-linecap="round" stroke-linejoin="round"/>
<path d="M463.32 203.00L463.64 203.00L463.95 203.00L464.27 203.00L464.58 203.00L464.90 203.00L465.22 203.00L465.53 203.00L465.85 203.00L466.16 203.00L466.48 203.00L466.80 203.00L467.11 203.00L467.43 203.00L467.74 203.00L468.06 203.00L468.38 203.00L468.69 203.00L469.01 203.00L469.32 203.00L469.64 203.00L469.96 203.00L470.27 203.00L470.59 203.00L470.90 203.00L471.22 203.00L471.54 203.00L471.85 203.00L472.17 203.00L472.48 203.00L472.80 203.00L473.12 203.00L473.43 203.00L473.75 203.00L474.06 203.00L474.38 203.00L474.70 203.00L475.01 203.00L475.33 203.00L475.64 203.00L475.96 203.00L476.28 203.00L476.59 203.00L476.91 203.00L477.22 203.00L477.54 203.00L477.86 203.00L478.17 203.00L478.49 203.00L478.80 203.00L479.12 203.00L479.44 203.00L479.75 203.00L480.07 203.00L480.38 203.00L480.70 203.00L481.02 203.00L481.33 203.00L481.65 203.00L481.96 203.00L482.28 203.00L482.60 203.00L482.91 203.00L483.23 203.00L483.54 203.00L483.86 203.00L484.18 203.00L484.49 203.00L484.81 203.00L485.12 203.00L485.44 203.00L485.76 203.00L486.07 203.00L486.39 203.00L486.70 203.00L487.02 203.00L487.34 203.00L487.65 203.00L487.97 203.00L488.28 203.00L488.60 203.00L488.92 203.00L489.23 203.00L489.55 203.00L489.86 203.00L490.18 203.00L490.50 203.00L490.81 203.00L491.13 203.00L491.44 203.00L491.76 203.00L492.08 203.00L492.39 203.00L492.71 203.00L493.02 203.00L493.34 203.00L493.66 203.00L493.97 203.00L494.29 203.00L494.60 203.00L494.92 203.00L495.24 203.00L495.55 203.00L495.87 203.00L496.18 203.00L496.50 203.00L496.82 203.00L497.13 203.00L497.45 203.00L497.76 203.00L498.08 203.00L498.40 203.00L498.71 203.00L499.03 202.99L499.34 202.99L499.66 202.99L499.98 202.99L500.29 202.98L500.61 202.98L500.92 202.98L501.24 202.97L501.56 202.96L501.87 202.96L502.19 202.95L502.50 202.94L502.82 202.92L503.14 202.91L503.45 202.89L503.77 202.86L504.08 202.84L504.40 202.81L504.72 202.77L505.03 202.73L505.35 202.68L505.66 202.62L505.98 202.56L506.30 202.48L506.61 202.40L506.93 202.30L507.24 202.19L507.56 202.06L507.88 201.92L508.19 201.76L508.51 201.58L508.82 201.38L509.14 201.16L509.46 200.91L509.77 200.63L510.09 200.33L510.40 199.99L510.72 199.61L511.04 199.21L511.35 198.76L511.67 198.27L511.98 197.74L512.30 197.16L512.62 196.53L512.93 195.86L513.25 195.13L513.56 194.35L513.88 193.51L514.20 192.61L514.51 191.66L514.83 190.64L515.14 189.57L515.46 188.43L515.78 187.23L516.09 185.97L516.41 184.64L516.72 183.26L517.04 181.81L517.36 180.30L517.67 178.74L517.99 177.12L518.30 175.45L518.62 173.73L518.94 171.97L519.25 170.16L519.57 168.31L519.88 166.43L520.20 164.52L520.52 162.59L520.83 160.64L521.15 158.68L521.46 156.71L521.78 154.74L522.10 152.77L522.41 150.82L522.73 148.88L523.04 146.97L523.36 145.10L523.68 143.25L523.99 141.45L524.31 139.70L524.62 138.01L524.94 136.37L525.26 134.80L525.57 133.30L525.89 131.87L526.20 130.52L526.52 129.25L526.84 128.07L527.15 126.97L527.47 125.96L527.78 125.04L528.10 124.21L528.42 123.48L528.73 122.83L529.05 122.29L529.36 121.83L529.68 121.47L530.00 121.19L530.31 121.01L530.63 120.91L530.94 120.90L531.26 120.97L531.58 121.13L531.89 121.36L532.21 121.67L532.52 122.04L532.84 122.49L533.16 123.00L533.47 123.58L533.79 124.21L534.10 124.90L534.42 125.65L534.74 126.44L535.05 127.27L535.37 128.15L535.68 129.06L536.00 130.02L536.32 131.00L536.63 132.01L536.95 133.05L537.26 134.11L537.58 135.20L537.90 136.30L538.21 137.41L538.53 138.54L538.84 139.68L539.16 140.83L539.48 141.98L539.79 143.14L540.11 144.30L540.42 145.46L540.74 146.62L541.06 147.78L541.37 148.93L541.69 150.08L542.00 151.22L542.32 152.35L542.64 153.47L542.95 154.59L543.27 155.69L543.58 156.79L543.90 157.87L544.22 158.93L544.53 159.99L544.85 161.03L545.16 162.05L545.48 163.06L545.80 164.06L546.11 165.04L546.43 166.00L546.74 166.95L547.06 167.88L547.38 168.80L547.69 169.70L548.01 170.58L548.32 171.45L548.64 172.30L548.96 173.13L549.27 173.95L549.59 174.75L549.90 175.53L550.22 176.30L550.54 177.05L550.85 177.78L551.17 178.50L551.48 179.20L551.80 179.89L552.12 180.56L552.43 181.21L552.75 181.85L553.06 182.48L553.38 183.09L553.70 183.69L554.01 184.27L554.33 184.84L554.64 185.39L554.96 185.93L555.28 186.46L555.59 186.97L555.91 187.47L556.22 187.96L556.54 188.44L556.86 188.90L557.17 189.35L557.49 189.79L557.80 190.22L558.12 190.63L558.44 191.04L558.75 191.43L559.07 191.81L559.38 192.19L559.70 192.55L560.02 192.90L560.33 193.24L560.65 193.58L560.96 193.90L561.28 194.21L561.60 194.52L561.91 194.81L562.23 195.10L562.54 195.38L562.86 195.65L563.18 195.91L563.49 196.17L563.81 196.42L564.12 196.66L564.44 196.89L564.76 197.11L565.07 197.33L565.39 197.54L565.70 197.75L566.02 197.95L566.34 198.14L566.65 198.33L566.97 198.51L567.28 198.68L567.60 198.85L567.92 199.01L568.23 199.17L568.55 199.32L568.86 199.47L569.18 199.61L569.50 199.75L569.81 199.88L570.13 200.01L570.44 200.14L570.76 200.26L571.08 200.37L571.39 200.48L571.71 200.59L572.02 200.69L572.34 200.79L572.66 200.89L572.97 200.98L573.29 201.07L573.60 201.16L573.92 201.24L574.24 201.32L574.55 201.40L574.87 201.47L575.18 201.54L575.50 201.61L575.82 201.68L576.13 201.74L576.45 201.80L576.76 201.86L577.08 201.91L577.40 201.97L577.71 202.02L578.03 202.07L578.34 202.11L578.66 202.16L578.98 202.20L579.29 202.24L579.61 202.28L579.92 202.32L580.24 202.35L580.56 202.39L580.87 202.42L581.19 202.45L581.50 202.48L581.82 202.51L582.14 202.54L582.45 202.56L582.77 202.59L583.08 202.61L583.40 202.64L583.72 202.66L584.03 202.68L584.35 202.70L584.66 202.71L584.98 202.73L585.30 202.75L585.61 202.76L585.93 202.78L586.24 202.79L586.56 202.81L586.88 202.82L587.19 202.83L587.51 202.84L587.82 202.85L588.14 202.86L588.46 202.87L588.77 202.88L589.09 202.89L589.40 202.90L589.72 202.90L590.04 202.91L590.35 202.92L590.67 202.92L590.98 202.93L591.30 202.94L591.62 202.94L591.93 202.94L592.25 202.95L592.56 202.95L592.88 202.96L593.20 202.96L593.51 202.96L593.83 202.97L594.14 202.97L594.46 202.97L594.78 202.97L595.09 202.98L595.41 202.98L595.72 202.98L596.04 202.98L596.36 202.98L596.67 202.99L596.99 202.99L597.30 202.99L597.62 202.99L597.94 202.99L598.25 202.99L598.57 202.99L598.88 202.99L599.20 202.99L599.52 202.99L599.83 203.00L600.15 203.00L600.46 203.00L600.78 203.00L601.10 203.00L601.41 203.00L601.73 203.00L602.04 203.00L602.36 203.00L602.68 203.00L602.99 203.00L603.31 203.00L603.62 203.00L603.94 203.00L604.26 203.00L604.57 203.00L604.89 203.00L605.20 203.00L605.52 203.00L605.84 203.00L606.15 203.00L606.47 203.00L606.78 203.00L607.10 203.00L607.42 203.00L607.73 203.00L608.05 203.00L608.36 203.00L608.68 203.00L609.00 203.00L609.31 203.00L609.63 203.00L609.94 203.00L610.26 203.00L610.58 203.00L610.89 203.00L611.21 203.00L611.52 203.00L611.84 203.00L612.16 203.00L612.47 203.00L612.79 203.00L613.10 203.00L613.42 203.00L613.74 203.00L614.05 203.00L614.37 203.00L614.68 203.00L615.00 203.00L615.32 203.00L615.63 203.00L615.95 203.00L616.26 203.00L616.58 203.00L616.90 203.00L617.21 203.00L617.53 203.00L617.84 203.00L618.16 203.00L618.48 203.00L618.79 203.00L619.11 203.00L619.42 203.00L619.74 203.00L620.06 203.00L620.37 203.00L620.69 203.00L621.00 203.00L621.32 203.00L621.64 203.00L621.95 203.00L622.27 203.00L622.58 203.00L622.90 203.00L623.22 203.00L623.53 203.00L623.85 203.00L624.16 203.00L624.48 203.00L624.80 203.00L625.11 203.00L625.43 203.00L625.74 203.00L626.06 203.00L626.38 203.00L626.69 203.00L627.01 203.00L627.32 203.00L627.64 203.00L627.96 203.00L628.27 203.00L628.59 203.00L628.90 203.00L629.22 203.00L629.54 203.00L629.85 203.00L630.17 203.00L630.48 202.99L630.80 202.99L631.12 202.99L631.43 202.99L631.75 202.99L632.06 202.99L632.38 202.99L632.70 202.99L633.01 202.99L633.33 202.99L633.64 202.98L633.96 202.98L634.28 202.98L634.59 202.98L634.91 202.98L635.22 202.97L635.54 202.97L635.86 202.97L636.17 202.97L636.49 202.96L636.80 202.96L637.12 202.96L637.44 202.95L637.75 202.95L638.07 202.94L638.38 202.94L638.70 202.94L639.02 202.93L639.33 202.92L639.65 202.92L639.96 202.91L640.28 202.90L640.60 202.90L640.91 202.89L641.23 202.88L641.54 202.87L641.86 202.86L642.18 202.85L642.49 202.84L642.81 202.83L643.12 202.82L643.44 202.81L643.76 202.79L644.07 202.78L644.39 202.76L644.70 202.75L645.02 202.73L645.34 202.71L645.65 202.70L645.97 202.68L646.28 202.66L646.60 202.64L646.92 202.61L647.23 202.59L647.55 202.56L647.86 202.54L648.18 202.51L648.50 202.48L648.81 202.45L649.13 202.42L649.44 202.39L649.76 202.35L650.08 202.32L650.39 202.28L650.71 202.24L651.02 202.20L651.34 202.16L651.66 202.11L651.97 202.07L652.29 202.02L652.60 201.97L652.92 201.91L653.24 201.86L653.55 201.80L653.87 201.74L654.18 201.68L654.50 201.61L654.82 201.54L655.13 201.47L655.45 201.40L655.76 201.32L656.08 201.24L656.40 201.16L656.71 201.07L657.03 200.98L657.34 200.89L657.66 200.79L657.98 200.69L658.29 200.59L658.61 200.48L658.92 200.37L659.24 200.26L659.56 200.14L659.87 200.01L660.19 199.88L660.50 199.75L660.82 199.61L661.14 199.47L661.45 199.32L661.77 199.17L662.08 199.01L662.40 198.85L662.72 198.68L663.03 198.51L663.35 198.33L663.66 198.14L663.98 197.95L664.30 197.75L664.61 197.54L664.93 197.33L665.24 197.11L665.56 196.89L665.88 196.66L666.19 196.42L666.51 196.17L666.82 195.91L667.14 195.65L667.46 195.38L667.77 195.10L668.09 194.81L668.40 194.52L668.72 194.21L669.04 193.90L669.35 193.58L669.67 193.24L669.98 192.90L670.30 192.55L670.62 192.19L670.93 191.81L671.25 191.43L671.56 191.04L671.88 190.63L672.20 190.22L672.51 189.79L672.83 189.35L673.14 188.90L673.46 188.44L673.78 187.96L674.09 187.47L674.41 186.97L674.72 186.46L675.04 185.93L675.36 185.39L675.67 184.84L675.99 184.27L676.30 183.69L676.62 183.09L676.94 182.48L677.25 181.85L677.57 181.21L677.88 180.56L678.20 179.89L678.52 179.20L678.83 178.50L679.15 177.78L679.46 177.05L679.78 176.30L680.10 175.53L680.41 174.75L680.73 173.95L681.04 173.13L681.36 172.30L681.68 171.45L681.99 170.58L682.31 169.70L682.62 168.80L682.94 167.88L683.26 166.95L683.57 166.00L683.89 165.04L684.20 164.06L684.52 163.06L684.84 162.05L685.15 161.03L685.47 159.99L685.78 158.93L686.10 157.87L686.42 156.79L686.73 155.69L687.05 154.59L687.36 153.47L687.68 152.35L688.00 151.22L688.31 150.08L688.63 148.93L688.94 147.78L689.26 146.62L689.58 145.46L689.89 144.30L690.21 143.14L690.52 141.98L690.84 140.83L691.16 139.68L691.47 138.54L691.79 137.41L692.10 136.30L692.42 135.20L692.74 134.11L693.05 133.05L693.37 132.01L693.68 131.00L694.00 130.02L694.32 129.06L694.63 128.15L694.95 127.27L695.26 126.44L695.58 125.65L695.90 124.90L696.21 124.21L696.53 123.58L696.84 123.00L697.16 122.49L697.48 122.04L697.79 121.67L698.11 121.36L698.42 121.13L698.74 120.97L699.06 120.90L699.37 120.91L699.69 121.01L700.00 121.19L700.32 121.47L700.64 121.83L700.95 122.29L701.27 122.83L701.58 123.48L701.90 124.21L702.22 125.04L702.53 125.96L702.85 126.97L703.16 128.07L703.48 129.25L703.80 130.52L704.11 131.87L704.43 133.30L704.74 134.80L705.06 136.37L705.38 138.01L705.69 139.70L706.01 141.45L706.32 143.25L706.64 145.10L706.96 146.97L707.27 148.88L707.59 150.82L707.90 152.77L708.22 154.74L708.54 156.71L708.85 158.68L709.17 160.64L709.48 162.59L709.80 164.52L710.12 166.43L710.43 168.31L710.75 170.16L711.06 171.97L711.38 173.73L711.70 175.45L712.01 177.12L712.33 178.74L712.64 180.30L712.96 181.81L713.28 183.26L713.59 184.64L713.91 185.97L714.22 187.23L714.54 188.43L714.86 189.57L715.17 190.64L715.49 191.66L715.80 192.61L716.12 193.51L716.44 194.35L716.75 195.13L717.07 195.86L717.38 196.53L717.70 197.16L718.02 197.74L718.33 198.27L718.65 198.76L718.96 199.21L719.28 199.61L719.60 199.99L719.91 200.33L720.23 200.63L720.54 200.91L720.86 201.16L721.18 201.38L721.49 201.58L721.81 201.76L722.12 201.92L722.44 202.06L722.76 202.19L723.07 202.30L723.39 202.40L723.70 202.48L724.02 202.56L724.34 202.62L724.65 202.68L724.97 202.73L725.28 202.77L725.60 202.81L725.92 202.84L726.23 202.86L726.55 202.89L726.86 202.91L727.18 202.92L727.50 202.94L727.81 202.95L728.13 202.96L728.44 202.96L728.76 202.97L729.08 202.98L729.39 202.98L729.71 202.98L730.02 202.99L730.34 202.99L730.66 202.99L730.97 202.99L731.29 203.00L731.60 203.00L731.92 203.00L732.24 203.00L732.55 203.00L732.87 203.00L733.18 203.00L733.50 203.00L733.82 203.00L734.13 203.00L734.45 203.00L734.76 203.00L735.08 203.00L735.40 203.00L735.71 203.00L736.03 203.00L736.34 203.00L736.66 203.00L736.98 203.00L737.29 203.00L737.61 203.00L737.92 203.00L738.24 203.00L738.56 203.00L738.87 203.00L739.19 203.00L739.50 203.00L739.82 203.00L740.14 203.00L740.45 203.00L740.77 203.00L741.08 203.00L741.40 203.00L741.72 203.00L742.03 203.00L742.35 203.00L742.66 203.00L742.98 203.00L743.30 203.00L743.61 203.00L743.93 203.00L744.24 203.00L744.56 203.00L744.88 203.00L745.19 203.00L745.51 203.00L745.82 203.00L746.14 203.00L746.46 203.00L746.77 203.00L747.09 203.00L747.40 203.00L747.72 203.00L748.04 203.00L748.35 203.00L748.67 203.00L748.98 203.00L749.30 203.00L749.62 203.00L749.93 203.00L750.25 203.00L750.56 203.00L750.88 203.00L751.20 203.00L751.51 203.00L751.83 203.00L752.14 203.00L752.46 203.00L752.78 203.00L753.09 203.00L753.41 203.00L753.72 203.00L754.04 203.00L754.36 203.00L754.67 203.00L754.99 203.00L755.30 203.00L755.62 203.00L755.94 203.00L756.25 203.00L756.57 203.00L756.88 203.00L757.20 203.00L757.52 203.00L757.83 203.00L758.15 203.00L758.46 203.00L758.78 203.00L759.10 203.00L759.41 203.00L759.73 203.00L760.04 203.00L760.36 203.00L760.68 203.00L760.99 203.00L761.31 203.00L761.62 203.00L761.94 203.00L762.26 203.00L762.57 203.00L762.89 203.00L763.20 203.00L763.52 203.00L763.84 203.00L764.15 203.00L764.47 203.00L764.78 203.00L765.10 203.00L765.42 203.00L765.73 203.00L766.05 203.00L766.36 203.00L766.68 203.00" fill="none" stroke="#ff8000" stroke-width="2.60" stroke-linecap="round" stroke-linejoin="round"/>
<path d="M457.00 212.40L457.00 17.10L772.50 17.10L772.50 212.40Z" fill="none" stroke="#666666" stroke-width="0.85"/>
<path d="M463.50 212.40v-1.90M463.50 17.10v1.90M475.50 212.40v-1.90M475.50 17.10v1.90M488.50 212.40v-3.30M488.50 17.10v3.30M501.50 212.40v-1.90M501.50 17.10v1.90M513.50 212.40v-1.90M513.50 17.10v1.90M526.50 212.40v-1.90M526.50 17.10v1.90M539.50 212.40v-1.90M539.50 17.10v1.90M551.50 212.40v-3.30M551.50 17.10v3.30M564.50 212.40v-1.90M564.50 17.10v1.90M577.50 212.40v-1.90M577.50 17.10v1.90M589.50 212.40v-1.90M589.50 17.10v1.90M602.50 212.40v-1.90M602.50 17.10v1.90M615.50 212.40v-3.30M615.50 17.10v3.30M627.50 212.40v-1.90M627.50 17.10v1.90M640.50 212.40v-1.90M640.50 17.10v1.90M652.50 212.40v-1.90M652.50 17.10v1.90M665.50 212.40v-1.90M665.50 17.10v1.90M678.50 212.40v-3.30M678.50 17.10v3.30M690.50 212.40v-1.90M690.50 17.10v1.90M703.50 212.40v-1.90M703.50 17.10v1.90M716.50 212.40v-1.90M716.50 17.10v1.90M728.50 212.40v-1.90M728.50 17.10v1.90M741.50 212.40v-3.30M741.50 17.10v3.30M754.50 212.40v-1.90M754.50 17.10v1.90M766.50 212.40v-1.90M766.50 17.10v1.90M457.00 211.50h1.90M772.50 211.50h-1.90M457.00 202.50h3.30M772.50 202.50h-3.30M457.00 194.50h1.90M772.50 194.50h-1.90M457.00 185.50h1.90M772.50 185.50h-1.90M457.00 176.50h1.90M772.50 176.50h-1.90M457.00 167.50h3.30M772.50 167.50h-3.30M457.00 158.50h1.90M772.50 158.50h-1.90M457.00 150.50h1.90M772.50 150.50h-1.90M457.00 141.50h1.90M772.50 141.50h-1.90M457.00 132.50h3.30M772.50 132.50h-3.30M457.00 123.50h1.90M772.50 123.50h-1.90M457.00 114.50h1.90M772.50 114.50h-1.90M457.00 106.50h1.90M772.50 106.50h-1.90M457.00 97.50h3.30M772.50 97.50h-3.30M457.00 88.50h1.90M772.50 88.50h-1.90M457.00 79.50h1.90M772.50 79.50h-1.90M457.00 70.50h1.90M772.50 70.50h-1.90M457.00 62.50h3.30M772.50 62.50h-3.30M457.00 53.50h1.90M772.50 53.50h-1.90M457.00 44.50h1.90M772.50 44.50h-1.90M457.00 35.50h1.90M772.50 35.50h-1.90M457.00 26.50h3.30M772.50 26.50h-3.30M457.00 18.50h1.90M772.50 18.50h-1.90" fill="none" stroke="#666666" stroke-width="0.45"/>
<text x="488.00" y="230.00" text-anchor="middle">−10</text>
<text x="551.20" y="230.00" text-anchor="middle">−5</text>
<text x="614.40" y="230.00" text-anchor="middle">0</text>
<text x="677.60" y="230.00" text-anchor="middle">5</text>
<text x="740.80" y="230.00" text-anchor="middle">10</text>
<text x="452.40" y="207.00" text-anchor="end">0.0</text>
<text x="452.40" y="172.00" text-anchor="end">0.2</text>
<text x="452.40" y="137.00" text-anchor="end">0.4</text>
<text x="452.40" y="102.00" text-anchor="end">0.6</text>
<text x="452.40" y="67.00" text-anchor="end">0.8</text>
<text x="452.40" y="31.00" text-anchor="end">1.0</text>
<text x="614.55" y="255.00" text-anchor="middle">x</text>
<g transform="translate(29.6,134.3) rotate(-90)"><text x="-0.3" y="1.0" font-style="italic" font-size="14">ϕ</text><text transform="translate(8.5,2.7) scale(1.33,1)" font-style="italic" font-size="10.3">k</text><text transform="translate(16.6,5.4) scale(1.33,1)" font-style="italic" font-size="9.8">n</text><text x="24.6" y="0">(x)</text></g>
<g transform="translate(423.3,132.0) rotate(-90)"><text transform="translate(-0.2,0) scale(1.22,1)" font-family="'DejaVu Sans', sans-serif" font-size="13.8">ℰ</text><text transform="translate(7.9,1.8) scale(1.2,1)" font-size="10.8">BPS</text></g>
</svg>
</body></html>
